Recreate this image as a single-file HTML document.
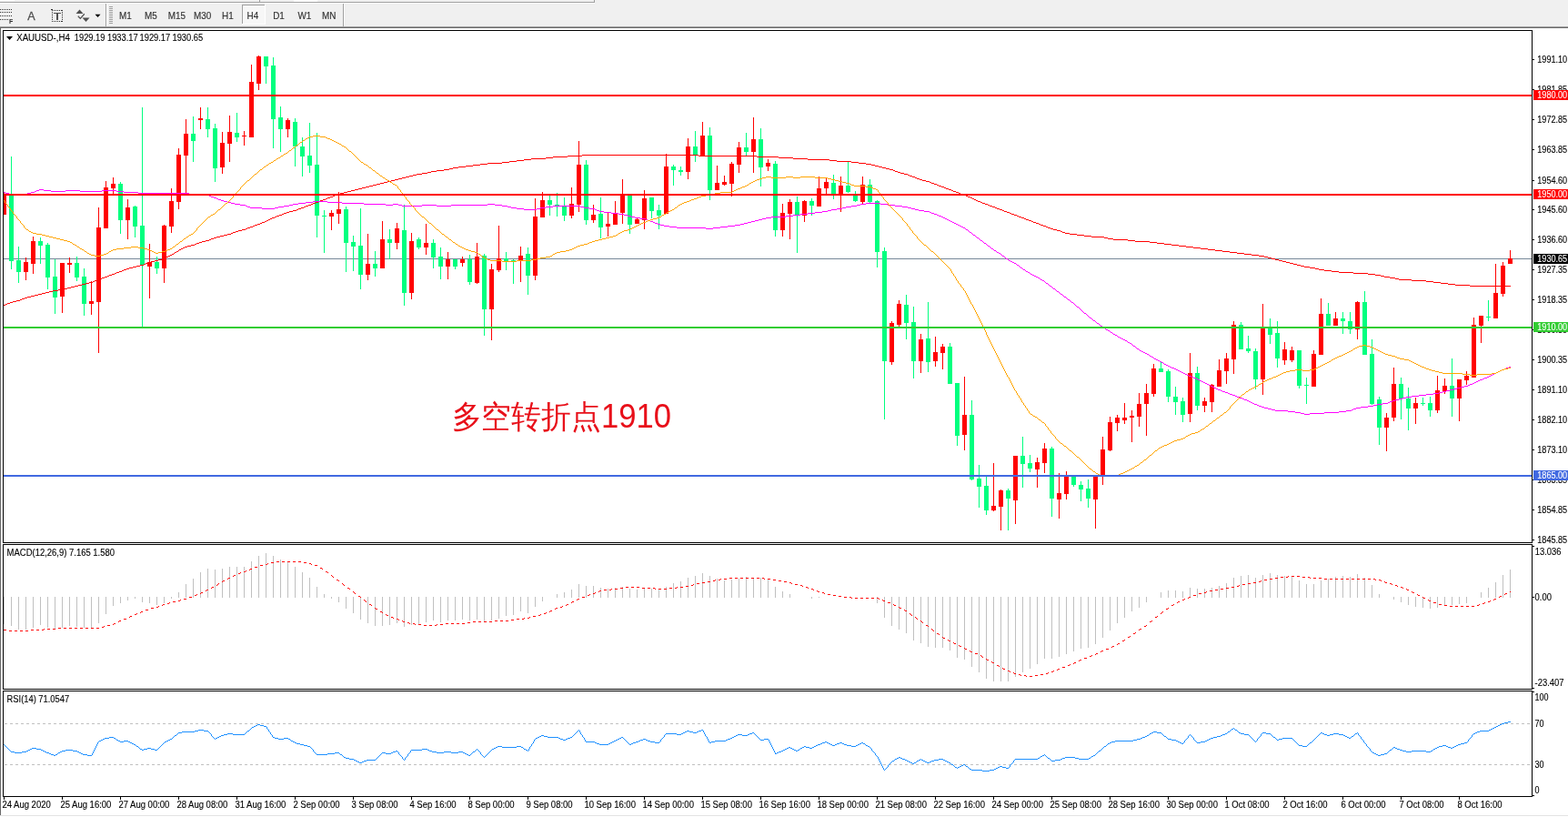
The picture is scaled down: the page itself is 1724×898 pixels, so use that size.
<!DOCTYPE html><html><head><meta charset="utf-8"><title>XAUUSD H4</title><style>
html,body{margin:0;padding:0;background:#fff;}
body{width:1724px;height:898px;overflow:hidden;position:relative;font-family:"Liberation Sans", Arial, sans-serif;}
svg{position:absolute;left:0;top:0;display:block;}
text{font-family:"Liberation Sans", Arial, sans-serif;}
</style></head><body>
<svg width="1724" height="898" viewBox="0 0 1724 898">
<rect x="0" y="0" width="1724" height="898" fill="#ffffff"/>
<g shape-rendering="crispEdges">
<rect x="0" y="0" width="1724" height="29" fill="#f0f0f0"/>
<rect x="0" y="0" width="16" height="1" fill="#ffffff"/>
<rect x="0" y="2" width="654" height="1" fill="#a0a0a0"/>
<rect x="653" y="0" width="1" height="3" fill="#a0a0a0"/>
<rect x="0" y="3" width="654" height="1" fill="#ffffff"/>
<rect x="285" y="0" width="1" height="2" fill="#a0a0a0"/><rect x="323" y="0" width="26" height="2" fill="#ffffff"/>
<rect x="0" y="29" width="1724" height="1" fill="#a0a0a0"/>
<rect x="0" y="30" width="1724" height="1" fill="#696969"/>
<rect x="0" y="31" width="1" height="865" fill="#696969"/>
<rect x="0" y="896" width="1724" height="1" fill="#e3e3e3"/>
<rect x="116" y="4" width="1" height="25" fill="#a0a0a0"/><rect x="117" y="4" width="1" height="25" fill="#ffffff"/>
<rect x="377" y="4" width="1" height="25" fill="#a0a0a0"/><rect x="378" y="4" width="1" height="25" fill="#ffffff"/>
<rect x="120" y="7" width="4" height="1" fill="#a0a0a0"/>
<rect x="120" y="9" width="4" height="1" fill="#a0a0a0"/>
<rect x="120" y="11" width="4" height="1" fill="#a0a0a0"/>
<rect x="120" y="13" width="4" height="1" fill="#a0a0a0"/>
<rect x="120" y="15" width="4" height="1" fill="#a0a0a0"/>
<rect x="120" y="17" width="4" height="1" fill="#a0a0a0"/>
<rect x="120" y="19" width="4" height="1" fill="#a0a0a0"/>
<rect x="120" y="21" width="4" height="1" fill="#a0a0a0"/>
<rect x="120" y="23" width="4" height="1" fill="#a0a0a0"/>
<rect x="120" y="25" width="4" height="1" fill="#a0a0a0"/>
<rect x="266" y="5" width="26" height="22" fill="#f7f7f7"/>
<rect x="266" y="5" width="26" height="1" fill="#a0a0a0"/><rect x="266" y="5" width="1" height="22" fill="#a0a0a0"/>
<rect x="266" y="26" width="26" height="1" fill="#ffffff"/><rect x="291" y="5" width="1" height="22" fill="#ffffff"/>
<rect x="0" y="10" width="1" height="1" fill="#303030"/>
<rect x="2" y="10" width="1" height="1" fill="#303030"/>
<rect x="4" y="10" width="1" height="1" fill="#303030"/>
<rect x="6" y="10" width="1" height="1" fill="#303030"/>
<rect x="8" y="10" width="1" height="1" fill="#303030"/>
<rect x="10" y="10" width="1" height="1" fill="#303030"/>
<rect x="12" y="10" width="1" height="1" fill="#303030"/>
<rect x="0" y="13" width="1" height="1" fill="#303030"/>
<rect x="2" y="13" width="1" height="1" fill="#303030"/>
<rect x="4" y="13" width="1" height="1" fill="#303030"/>
<rect x="6" y="13" width="1" height="1" fill="#303030"/>
<rect x="8" y="13" width="1" height="1" fill="#303030"/>
<rect x="10" y="13" width="1" height="1" fill="#303030"/>
<rect x="12" y="13" width="1" height="1" fill="#303030"/>
<rect x="0" y="17" width="1" height="1" fill="#303030"/>
<rect x="2" y="17" width="1" height="1" fill="#303030"/>
<rect x="4" y="17" width="1" height="1" fill="#303030"/>
<rect x="6" y="17" width="1" height="1" fill="#303030"/>
<rect x="8" y="17" width="1" height="1" fill="#303030"/>
<rect x="10" y="17" width="1" height="1" fill="#303030"/>
<rect x="12" y="17" width="1" height="1" fill="#303030"/>
<rect x="0" y="21" width="1" height="1" fill="#303030"/>
<rect x="2" y="21" width="1" height="1" fill="#303030"/>
<rect x="4" y="21" width="1" height="1" fill="#303030"/>
<rect x="6" y="21" width="1" height="1" fill="#303030"/>
<rect x="8" y="21" width="1" height="1" fill="#303030"/>
<rect x="57" y="11" width="1" height="1" fill="#303030"/><rect x="57" y="23" width="1" height="1" fill="#303030"/>
<rect x="59" y="11" width="1" height="1" fill="#303030"/><rect x="59" y="23" width="1" height="1" fill="#303030"/>
<rect x="61" y="11" width="1" height="1" fill="#303030"/><rect x="61" y="23" width="1" height="1" fill="#303030"/>
<rect x="63" y="11" width="1" height="1" fill="#303030"/><rect x="63" y="23" width="1" height="1" fill="#303030"/>
<rect x="65" y="11" width="1" height="1" fill="#303030"/><rect x="65" y="23" width="1" height="1" fill="#303030"/>
<rect x="67" y="11" width="1" height="1" fill="#303030"/><rect x="67" y="23" width="1" height="1" fill="#303030"/>
<rect x="57" y="11" width="1" height="1" fill="#303030"/><rect x="68" y="11" width="1" height="1" fill="#303030"/>
<rect x="57" y="13" width="1" height="1" fill="#303030"/><rect x="68" y="13" width="1" height="1" fill="#303030"/>
<rect x="57" y="15" width="1" height="1" fill="#303030"/><rect x="68" y="15" width="1" height="1" fill="#303030"/>
<rect x="57" y="17" width="1" height="1" fill="#303030"/><rect x="68" y="17" width="1" height="1" fill="#303030"/>
<rect x="57" y="19" width="1" height="1" fill="#303030"/><rect x="68" y="19" width="1" height="1" fill="#303030"/>
<rect x="57" y="21" width="1" height="1" fill="#303030"/><rect x="68" y="21" width="1" height="1" fill="#303030"/>
<rect x="57" y="23" width="1" height="1" fill="#303030"/><rect x="68" y="23" width="1" height="1" fill="#303030"/>
<rect x="56" y="10" width="2" height="1" fill="#303030"/>
<rect x="59" y="14" width="8" height="1" fill="#505050"/><rect x="62" y="14" width="2" height="8" fill="#505050"/>
</g>
<text x="10" y="26" font-size="7" font-weight="bold" fill="#303030">F</text>
<text x="30.3" y="22" font-size="12.6" fill="#505050" stroke="#505050" stroke-width="0.3">A</text>
<path d="M83.5,15 L87.5,10.5 L91.5,15 Z" fill="#505050"/><path d="M90.5,19.5 L94.5,24 L98.5,19.5 Z" fill="#505050"/>
<path d="M85.8,17.8 L88.3,20.4 L92.8,15.3" stroke="#505050" stroke-width="1.3" fill="none"/>
<path d="M104.5,15.8 L110.5,15.8 L107.5,19 Z" fill="#000"/>
<text x="131.1" y="21" font-size="10.2" fill="#333333" stroke="#333333" stroke-width="0.15" textLength="13.75" lengthAdjust="spacingAndGlyphs" xml:space="preserve" >M1</text>
<text x="159.0" y="21" font-size="10.2" fill="#333333" stroke="#333333" stroke-width="0.15" textLength="13.75" lengthAdjust="spacingAndGlyphs" xml:space="preserve" >M5</text>
<text x="184.8" y="21" font-size="10.2" fill="#333333" stroke="#333333" stroke-width="0.15" textLength="19.26" lengthAdjust="spacingAndGlyphs" xml:space="preserve" >M15</text>
<text x="213.0" y="21" font-size="10.2" fill="#333333" stroke="#333333" stroke-width="0.15" textLength="19.26" lengthAdjust="spacingAndGlyphs" xml:space="preserve" >M30</text>
<text x="244.0" y="21" font-size="10.2" fill="#333333" stroke="#333333" stroke-width="0.15" textLength="12.65" lengthAdjust="spacingAndGlyphs" xml:space="preserve" >H1</text>
<text x="271.6" y="21" font-size="10.2" fill="#333333" stroke="#333333" stroke-width="0.15" textLength="12.65" lengthAdjust="spacingAndGlyphs" xml:space="preserve" >H4</text>
<text x="300.2" y="21" font-size="10.2" fill="#333333" stroke="#333333" stroke-width="0.15" textLength="12.65" lengthAdjust="spacingAndGlyphs" xml:space="preserve" >D1</text>
<text x="327.4" y="21" font-size="10.2" fill="#333333" stroke="#333333" stroke-width="0.15" textLength="14.85" lengthAdjust="spacingAndGlyphs" xml:space="preserve" >W1</text>
<text x="353.9" y="21" font-size="10.2" fill="#333333" stroke="#333333" stroke-width="0.15" textLength="15.40" lengthAdjust="spacingAndGlyphs" xml:space="preserve" >MN</text>
<g shape-rendering="crispEdges" fill="#000">
<rect x="3" y="33" width="1682" height="1"/>
<rect x="3" y="596" width="1682" height="1"/>
<rect x="3" y="33" width="1" height="564"/>
<rect x="1684" y="33" width="1" height="564"/>
<rect x="3" y="598" width="1682" height="1"/>
<rect x="3" y="757" width="1682" height="1"/>
<rect x="3" y="598" width="1" height="160"/>
<rect x="1684" y="598" width="1" height="160"/>
<rect x="3" y="759" width="1682" height="1"/>
<rect x="3" y="875" width="1682" height="1"/>
<rect x="3" y="759" width="1" height="117"/>
<rect x="1684" y="759" width="1" height="117"/>
</g>
<defs><clipPath id="cm"><rect x="4" y="34" width="1680" height="562"/></clipPath><clipPath id="cd"><rect x="4" y="599" width="1680" height="158"/></clipPath><clipPath id="cr"><rect x="4" y="760" width="1680" height="115"/></clipPath></defs>
<g clip-path="url(#cm)">
<g shape-rendering="crispEdges">
<rect x="4" y="284" width="1680" height="1" fill="#778899"/>
</g>
<g shape-rendering="crispEdges">
<rect x="4" y="211" width="1" height="25" fill="#ff0000"/>
<rect x="2" y="213" width="5" height="23" fill="#ff0000"/>
<rect x="12" y="172" width="1" height="124" fill="#00ff7f"/>
<rect x="10" y="215" width="5" height="72" fill="#00ff7f"/>
<rect x="20" y="271" width="1" height="40" fill="#00ff7f"/>
<rect x="18" y="286" width="5" height="13" fill="#00ff7f"/>
<rect x="28" y="283" width="1" height="25" fill="#ff0000"/>
<rect x="26" y="288" width="5" height="11" fill="#ff0000"/>
<rect x="36" y="260" width="1" height="41" fill="#ff0000"/>
<rect x="34" y="265" width="5" height="25" fill="#ff0000"/>
<rect x="44" y="261" width="1" height="29" fill="#00ff7f"/>
<rect x="42" y="265" width="5" height="5" fill="#00ff7f"/>
<rect x="52" y="267" width="1" height="51" fill="#00ff7f"/>
<rect x="50" y="269" width="5" height="36" fill="#00ff7f"/>
<rect x="60" y="285" width="1" height="60" fill="#00ff7f"/>
<rect x="58" y="304" width="5" height="23" fill="#00ff7f"/>
<rect x="68" y="289" width="1" height="55" fill="#ff0000"/>
<rect x="66" y="289" width="5" height="37" fill="#ff0000"/>
<rect x="76" y="283" width="1" height="17" fill="#ff0000"/>
<rect x="74" y="289" width="5" height="2" fill="#ff0000"/>
<rect x="84" y="282" width="1" height="27" fill="#00ff7f"/>
<rect x="82" y="289" width="5" height="16" fill="#00ff7f"/>
<rect x="92" y="295" width="1" height="52" fill="#00ff7f"/>
<rect x="90" y="304" width="5" height="30" fill="#00ff7f"/>
<rect x="100" y="309" width="1" height="37" fill="#ff0000"/>
<rect x="98" y="331" width="5" height="3" fill="#ff0000"/>
<rect x="108" y="228" width="1" height="160" fill="#ff0000"/>
<rect x="106" y="250" width="5" height="82" fill="#ff0000"/>
<rect x="116" y="199" width="1" height="52" fill="#ff0000"/>
<rect x="114" y="206" width="5" height="45" fill="#ff0000"/>
<rect x="124" y="195" width="1" height="18" fill="#ff0000"/>
<rect x="122" y="202" width="5" height="5" fill="#ff0000"/>
<rect x="132" y="200" width="1" height="57" fill="#00ff7f"/>
<rect x="130" y="202" width="5" height="40" fill="#00ff7f"/>
<rect x="140" y="219" width="1" height="44" fill="#ff0000"/>
<rect x="138" y="228" width="5" height="14" fill="#ff0000"/>
<rect x="148" y="226" width="1" height="35" fill="#00ff7f"/>
<rect x="146" y="227" width="5" height="22" fill="#00ff7f"/>
<rect x="156" y="118" width="1" height="241" fill="#00ff7f"/>
<rect x="154" y="248" width="5" height="43" fill="#00ff7f"/>
<rect x="164" y="268" width="1" height="60" fill="#ff0000"/>
<rect x="162" y="288" width="5" height="5" fill="#ff0000"/>
<rect x="172" y="282" width="1" height="19" fill="#00ff7f"/>
<rect x="170" y="288" width="5" height="7" fill="#00ff7f"/>
<rect x="180" y="247" width="1" height="64" fill="#ff0000"/>
<rect x="178" y="248" width="5" height="47" fill="#ff0000"/>
<rect x="188" y="207" width="1" height="49" fill="#ff0000"/>
<rect x="186" y="221" width="5" height="28" fill="#ff0000"/>
<rect x="196" y="163" width="1" height="67" fill="#ff0000"/>
<rect x="194" y="170" width="5" height="52" fill="#ff0000"/>
<rect x="204" y="131" width="1" height="82" fill="#ff0000"/>
<rect x="202" y="147" width="5" height="24" fill="#ff0000"/>
<rect x="212" y="128" width="1" height="50" fill="#00ff7f"/>
<rect x="210" y="147" width="5" height="8" fill="#00ff7f"/>
<rect x="220" y="118" width="1" height="24" fill="#ff0000"/>
<rect x="218" y="130" width="5" height="2" fill="#ff0000"/>
<rect x="228" y="118" width="1" height="33" fill="#00ff7f"/>
<rect x="226" y="131" width="5" height="11" fill="#00ff7f"/>
<rect x="236" y="136" width="1" height="64" fill="#00ff7f"/>
<rect x="234" y="141" width="5" height="44" fill="#00ff7f"/>
<rect x="244" y="145" width="1" height="46" fill="#ff0000"/>
<rect x="242" y="157" width="5" height="27" fill="#ff0000"/>
<rect x="252" y="127" width="1" height="51" fill="#ff0000"/>
<rect x="250" y="145" width="5" height="13" fill="#ff0000"/>
<rect x="260" y="124" width="1" height="32" fill="#00ff7f"/>
<rect x="258" y="146" width="5" height="5" fill="#00ff7f"/>
<rect x="268" y="144" width="1" height="16" fill="#ff0000"/>
<rect x="266" y="149" width="5" height="1" fill="#ff0000"/>
<rect x="276" y="71" width="1" height="80" fill="#ff0000"/>
<rect x="274" y="90" width="5" height="61" fill="#ff0000"/>
<rect x="284" y="61" width="1" height="38" fill="#ff0000"/>
<rect x="282" y="62" width="5" height="30" fill="#ff0000"/>
<rect x="292" y="62" width="1" height="30" fill="#00ff7f"/>
<rect x="290" y="62" width="5" height="11" fill="#00ff7f"/>
<rect x="300" y="63" width="1" height="100" fill="#00ff7f"/>
<rect x="298" y="72" width="5" height="59" fill="#00ff7f"/>
<rect x="308" y="117" width="1" height="50" fill="#00ff7f"/>
<rect x="306" y="129" width="5" height="13" fill="#00ff7f"/>
<rect x="316" y="130" width="1" height="21" fill="#ff0000"/>
<rect x="314" y="132" width="5" height="10" fill="#ff0000"/>
<rect x="324" y="130" width="1" height="53" fill="#00ff7f"/>
<rect x="322" y="134" width="5" height="27" fill="#00ff7f"/>
<rect x="332" y="151" width="1" height="43" fill="#00ff7f"/>
<rect x="330" y="161" width="5" height="11" fill="#00ff7f"/>
<rect x="340" y="135" width="1" height="55" fill="#00ff7f"/>
<rect x="338" y="171" width="5" height="11" fill="#00ff7f"/>
<rect x="348" y="146" width="1" height="115" fill="#00ff7f"/>
<rect x="346" y="181" width="5" height="56" fill="#00ff7f"/>
<rect x="356" y="231" width="1" height="47" fill="#00ff7f"/>
<rect x="354" y="237" width="5" height="1" fill="#00ff7f"/>
<rect x="364" y="231" width="1" height="22" fill="#ff0000"/>
<rect x="362" y="234" width="5" height="4" fill="#ff0000"/>
<rect x="372" y="211" width="1" height="35" fill="#ff0000"/>
<rect x="370" y="230" width="5" height="5" fill="#ff0000"/>
<rect x="380" y="227" width="1" height="72" fill="#00ff7f"/>
<rect x="378" y="230" width="5" height="37" fill="#00ff7f"/>
<rect x="388" y="259" width="1" height="39" fill="#00ff7f"/>
<rect x="386" y="266" width="5" height="5" fill="#00ff7f"/>
<rect x="396" y="229" width="1" height="89" fill="#00ff7f"/>
<rect x="394" y="270" width="5" height="32" fill="#00ff7f"/>
<rect x="404" y="257" width="1" height="51" fill="#ff0000"/>
<rect x="402" y="290" width="5" height="12" fill="#ff0000"/>
<rect x="412" y="276" width="1" height="28" fill="#00ff7f"/>
<rect x="410" y="290" width="5" height="5" fill="#00ff7f"/>
<rect x="420" y="243" width="1" height="52" fill="#ff0000"/>
<rect x="418" y="263" width="5" height="32" fill="#ff0000"/>
<rect x="428" y="252" width="1" height="33" fill="#00ff7f"/>
<rect x="426" y="263" width="5" height="4" fill="#00ff7f"/>
<rect x="436" y="245" width="1" height="29" fill="#ff0000"/>
<rect x="434" y="251" width="5" height="16" fill="#ff0000"/>
<rect x="444" y="225" width="1" height="111" fill="#00ff7f"/>
<rect x="442" y="253" width="5" height="69" fill="#00ff7f"/>
<rect x="452" y="256" width="1" height="73" fill="#ff0000"/>
<rect x="450" y="265" width="5" height="57" fill="#ff0000"/>
<rect x="460" y="261" width="1" height="13" fill="#00ff7f"/>
<rect x="458" y="263" width="5" height="9" fill="#00ff7f"/>
<rect x="468" y="246" width="1" height="34" fill="#ff0000"/>
<rect x="466" y="267" width="5" height="5" fill="#ff0000"/>
<rect x="476" y="263" width="1" height="32" fill="#00ff7f"/>
<rect x="474" y="267" width="5" height="16" fill="#00ff7f"/>
<rect x="484" y="272" width="1" height="35" fill="#00ff7f"/>
<rect x="482" y="282" width="5" height="11" fill="#00ff7f"/>
<rect x="492" y="277" width="1" height="30" fill="#ff0000"/>
<rect x="490" y="285" width="5" height="8" fill="#ff0000"/>
<rect x="500" y="285" width="1" height="11" fill="#00ff7f"/>
<rect x="498" y="285" width="5" height="8" fill="#00ff7f"/>
<rect x="508" y="282" width="1" height="11" fill="#ff0000"/>
<rect x="506" y="285" width="5" height="4" fill="#ff0000"/>
<rect x="516" y="280" width="1" height="33" fill="#00ff7f"/>
<rect x="514" y="285" width="5" height="25" fill="#00ff7f"/>
<rect x="524" y="267" width="1" height="45" fill="#ff0000"/>
<rect x="522" y="282" width="5" height="29" fill="#ff0000"/>
<rect x="532" y="279" width="1" height="90" fill="#00ff7f"/>
<rect x="530" y="281" width="5" height="59" fill="#00ff7f"/>
<rect x="540" y="290" width="1" height="84" fill="#ff0000"/>
<rect x="538" y="296" width="5" height="44" fill="#ff0000"/>
<rect x="548" y="248" width="1" height="51" fill="#ff0000"/>
<rect x="546" y="284" width="5" height="13" fill="#ff0000"/>
<rect x="556" y="277" width="1" height="20" fill="#00ff7f"/>
<rect x="554" y="284" width="5" height="3" fill="#00ff7f"/>
<rect x="564" y="285" width="1" height="27" fill="#00ff7f"/>
<rect x="562" y="286" width="5" height="1" fill="#00ff7f"/>
<rect x="572" y="271" width="1" height="39" fill="#ff0000"/>
<rect x="570" y="281" width="5" height="6" fill="#ff0000"/>
<rect x="580" y="272" width="1" height="52" fill="#00ff7f"/>
<rect x="578" y="279" width="5" height="24" fill="#00ff7f"/>
<rect x="588" y="218" width="1" height="90" fill="#ff0000"/>
<rect x="586" y="238" width="5" height="65" fill="#ff0000"/>
<rect x="596" y="211" width="1" height="28" fill="#ff0000"/>
<rect x="594" y="220" width="5" height="19" fill="#ff0000"/>
<rect x="604" y="215" width="1" height="22" fill="#00ff7f"/>
<rect x="602" y="220" width="5" height="5" fill="#00ff7f"/>
<rect x="612" y="212" width="1" height="26" fill="#00ff7f"/>
<rect x="610" y="225" width="5" height="2" fill="#00ff7f"/>
<rect x="620" y="217" width="1" height="26" fill="#00ff7f"/>
<rect x="618" y="227" width="5" height="10" fill="#00ff7f"/>
<rect x="628" y="206" width="1" height="34" fill="#ff0000"/>
<rect x="626" y="224" width="5" height="13" fill="#ff0000"/>
<rect x="636" y="155" width="1" height="78" fill="#ff0000"/>
<rect x="634" y="181" width="5" height="44" fill="#ff0000"/>
<rect x="644" y="176" width="1" height="71" fill="#00ff7f"/>
<rect x="642" y="181" width="5" height="61" fill="#00ff7f"/>
<rect x="652" y="225" width="1" height="20" fill="#ff0000"/>
<rect x="650" y="236" width="5" height="6" fill="#ff0000"/>
<rect x="660" y="217" width="1" height="45" fill="#00ff7f"/>
<rect x="658" y="235" width="5" height="15" fill="#00ff7f"/>
<rect x="668" y="234" width="1" height="26" fill="#ff0000"/>
<rect x="666" y="246" width="5" height="3" fill="#ff0000"/>
<rect x="676" y="221" width="1" height="26" fill="#ff0000"/>
<rect x="674" y="235" width="5" height="12" fill="#ff0000"/>
<rect x="684" y="197" width="1" height="49" fill="#ff0000"/>
<rect x="682" y="214" width="5" height="20" fill="#ff0000"/>
<rect x="692" y="215" width="1" height="42" fill="#00ff7f"/>
<rect x="690" y="215" width="5" height="32" fill="#00ff7f"/>
<rect x="700" y="239" width="1" height="7" fill="#ff0000"/>
<rect x="698" y="241" width="5" height="5" fill="#ff0000"/>
<rect x="708" y="209" width="1" height="43" fill="#ff0000"/>
<rect x="706" y="218" width="5" height="24" fill="#ff0000"/>
<rect x="716" y="217" width="1" height="23" fill="#00ff7f"/>
<rect x="714" y="217" width="5" height="15" fill="#00ff7f"/>
<rect x="724" y="225" width="1" height="27" fill="#00ff7f"/>
<rect x="722" y="231" width="5" height="6" fill="#00ff7f"/>
<rect x="732" y="169" width="1" height="66" fill="#ff0000"/>
<rect x="730" y="183" width="5" height="52" fill="#ff0000"/>
<rect x="740" y="181" width="1" height="23" fill="#00ff7f"/>
<rect x="738" y="183" width="5" height="4" fill="#00ff7f"/>
<rect x="748" y="183" width="1" height="10" fill="#00ff7f"/>
<rect x="746" y="187" width="5" height="2" fill="#00ff7f"/>
<rect x="756" y="152" width="1" height="45" fill="#ff0000"/>
<rect x="754" y="161" width="5" height="28" fill="#ff0000"/>
<rect x="764" y="144" width="1" height="34" fill="#00ff7f"/>
<rect x="762" y="161" width="5" height="10" fill="#00ff7f"/>
<rect x="772" y="134" width="1" height="38" fill="#ff0000"/>
<rect x="770" y="149" width="5" height="22" fill="#ff0000"/>
<rect x="780" y="140" width="1" height="80" fill="#00ff7f"/>
<rect x="778" y="149" width="5" height="60" fill="#00ff7f"/>
<rect x="788" y="182" width="1" height="27" fill="#ff0000"/>
<rect x="786" y="201" width="5" height="8" fill="#ff0000"/>
<rect x="796" y="193" width="1" height="11" fill="#ff0000"/>
<rect x="794" y="200" width="5" height="3" fill="#ff0000"/>
<rect x="804" y="178" width="1" height="38" fill="#ff0000"/>
<rect x="802" y="180" width="5" height="22" fill="#ff0000"/>
<rect x="812" y="156" width="1" height="34" fill="#ff0000"/>
<rect x="810" y="162" width="5" height="19" fill="#ff0000"/>
<rect x="820" y="146" width="1" height="26" fill="#00ff7f"/>
<rect x="818" y="162" width="5" height="5" fill="#00ff7f"/>
<rect x="828" y="129" width="1" height="61" fill="#ff0000"/>
<rect x="826" y="153" width="5" height="14" fill="#ff0000"/>
<rect x="836" y="141" width="1" height="64" fill="#00ff7f"/>
<rect x="834" y="153" width="5" height="31" fill="#00ff7f"/>
<rect x="844" y="175" width="1" height="13" fill="#ff0000"/>
<rect x="842" y="179" width="5" height="4" fill="#ff0000"/>
<rect x="852" y="177" width="1" height="83" fill="#00ff7f"/>
<rect x="850" y="180" width="5" height="73" fill="#00ff7f"/>
<rect x="860" y="224" width="1" height="36" fill="#ff0000"/>
<rect x="858" y="234" width="5" height="19" fill="#ff0000"/>
<rect x="868" y="219" width="1" height="44" fill="#ff0000"/>
<rect x="866" y="222" width="5" height="13" fill="#ff0000"/>
<rect x="876" y="216" width="1" height="62" fill="#00ff7f"/>
<rect x="874" y="222" width="5" height="14" fill="#00ff7f"/>
<rect x="884" y="220" width="1" height="24" fill="#ff0000"/>
<rect x="882" y="221" width="5" height="16" fill="#ff0000"/>
<rect x="892" y="218" width="1" height="19" fill="#00ff7f"/>
<rect x="890" y="221" width="5" height="5" fill="#00ff7f"/>
<rect x="900" y="194" width="1" height="33" fill="#ff0000"/>
<rect x="898" y="207" width="5" height="20" fill="#ff0000"/>
<rect x="908" y="195" width="1" height="18" fill="#ff0000"/>
<rect x="906" y="200" width="5" height="7" fill="#ff0000"/>
<rect x="916" y="192" width="1" height="27" fill="#00ff7f"/>
<rect x="914" y="201" width="5" height="12" fill="#00ff7f"/>
<rect x="924" y="194" width="1" height="39" fill="#ff0000"/>
<rect x="922" y="204" width="5" height="10" fill="#ff0000"/>
<rect x="932" y="178" width="1" height="34" fill="#00ff7f"/>
<rect x="930" y="204" width="5" height="7" fill="#00ff7f"/>
<rect x="940" y="210" width="1" height="12" fill="#00ff7f"/>
<rect x="938" y="214" width="5" height="7" fill="#00ff7f"/>
<rect x="948" y="194" width="1" height="31" fill="#ff0000"/>
<rect x="946" y="203" width="5" height="19" fill="#ff0000"/>
<rect x="956" y="197" width="1" height="26" fill="#00ff7f"/>
<rect x="954" y="203" width="5" height="19" fill="#00ff7f"/>
<rect x="964" y="220" width="1" height="74" fill="#00ff7f"/>
<rect x="962" y="221" width="5" height="56" fill="#00ff7f"/>
<rect x="972" y="272" width="1" height="189" fill="#00ff7f"/>
<rect x="970" y="276" width="5" height="121" fill="#00ff7f"/>
<rect x="980" y="353" width="1" height="48" fill="#ff0000"/>
<rect x="978" y="355" width="5" height="43" fill="#ff0000"/>
<rect x="988" y="330" width="1" height="29" fill="#ff0000"/>
<rect x="986" y="334" width="5" height="23" fill="#ff0000"/>
<rect x="996" y="324" width="1" height="49" fill="#00ff7f"/>
<rect x="994" y="335" width="5" height="20" fill="#00ff7f"/>
<rect x="1004" y="337" width="1" height="79" fill="#00ff7f"/>
<rect x="1002" y="354" width="5" height="43" fill="#00ff7f"/>
<rect x="1012" y="367" width="1" height="43" fill="#ff0000"/>
<rect x="1010" y="373" width="5" height="24" fill="#ff0000"/>
<rect x="1020" y="332" width="1" height="77" fill="#00ff7f"/>
<rect x="1018" y="372" width="5" height="26" fill="#00ff7f"/>
<rect x="1028" y="370" width="1" height="33" fill="#ff0000"/>
<rect x="1026" y="387" width="5" height="10" fill="#ff0000"/>
<rect x="1036" y="378" width="1" height="28" fill="#ff0000"/>
<rect x="1034" y="381" width="5" height="7" fill="#ff0000"/>
<rect x="1044" y="377" width="1" height="45" fill="#00ff7f"/>
<rect x="1042" y="381" width="5" height="41" fill="#00ff7f"/>
<rect x="1052" y="421" width="1" height="69" fill="#00ff7f"/>
<rect x="1050" y="421" width="5" height="58" fill="#00ff7f"/>
<rect x="1060" y="414" width="1" height="81" fill="#ff0000"/>
<rect x="1058" y="456" width="5" height="22" fill="#ff0000"/>
<rect x="1068" y="440" width="1" height="88" fill="#00ff7f"/>
<rect x="1066" y="456" width="5" height="71" fill="#00ff7f"/>
<rect x="1076" y="511" width="1" height="47" fill="#00ff7f"/>
<rect x="1074" y="526" width="5" height="9" fill="#00ff7f"/>
<rect x="1084" y="524" width="1" height="42" fill="#00ff7f"/>
<rect x="1082" y="534" width="5" height="27" fill="#00ff7f"/>
<rect x="1092" y="509" width="1" height="53" fill="#ff0000"/>
<rect x="1090" y="556" width="5" height="5" fill="#ff0000"/>
<rect x="1100" y="538" width="1" height="45" fill="#ff0000"/>
<rect x="1098" y="539" width="5" height="18" fill="#ff0000"/>
<rect x="1108" y="537" width="1" height="46" fill="#00ff7f"/>
<rect x="1106" y="539" width="5" height="9" fill="#00ff7f"/>
<rect x="1116" y="501" width="1" height="75" fill="#ff0000"/>
<rect x="1114" y="501" width="5" height="49" fill="#ff0000"/>
<rect x="1124" y="480" width="1" height="56" fill="#00ff7f"/>
<rect x="1122" y="501" width="5" height="9" fill="#00ff7f"/>
<rect x="1132" y="500" width="1" height="19" fill="#00ff7f"/>
<rect x="1130" y="509" width="5" height="6" fill="#00ff7f"/>
<rect x="1140" y="503" width="1" height="33" fill="#ff0000"/>
<rect x="1138" y="508" width="5" height="8" fill="#ff0000"/>
<rect x="1148" y="487" width="1" height="33" fill="#ff0000"/>
<rect x="1146" y="493" width="5" height="16" fill="#ff0000"/>
<rect x="1156" y="491" width="1" height="77" fill="#00ff7f"/>
<rect x="1154" y="493" width="5" height="55" fill="#00ff7f"/>
<rect x="1164" y="520" width="1" height="50" fill="#ff0000"/>
<rect x="1162" y="542" width="5" height="7" fill="#ff0000"/>
<rect x="1172" y="518" width="1" height="31" fill="#ff0000"/>
<rect x="1170" y="524" width="5" height="19" fill="#ff0000"/>
<rect x="1180" y="524" width="1" height="11" fill="#00ff7f"/>
<rect x="1178" y="524" width="5" height="9" fill="#00ff7f"/>
<rect x="1188" y="529" width="1" height="22" fill="#00ff7f"/>
<rect x="1186" y="533" width="5" height="5" fill="#00ff7f"/>
<rect x="1196" y="527" width="1" height="31" fill="#00ff7f"/>
<rect x="1194" y="537" width="5" height="11" fill="#00ff7f"/>
<rect x="1204" y="522" width="1" height="59" fill="#ff0000"/>
<rect x="1202" y="524" width="5" height="25" fill="#ff0000"/>
<rect x="1212" y="480" width="1" height="53" fill="#ff0000"/>
<rect x="1210" y="494" width="5" height="29" fill="#ff0000"/>
<rect x="1220" y="458" width="1" height="38" fill="#ff0000"/>
<rect x="1218" y="464" width="5" height="31" fill="#ff0000"/>
<rect x="1228" y="456" width="1" height="18" fill="#ff0000"/>
<rect x="1226" y="459" width="5" height="6" fill="#ff0000"/>
<rect x="1236" y="443" width="1" height="23" fill="#ff0000"/>
<rect x="1234" y="459" width="5" height="3" fill="#ff0000"/>
<rect x="1244" y="451" width="1" height="35" fill="#ff0000"/>
<rect x="1242" y="457" width="5" height="2" fill="#ff0000"/>
<rect x="1252" y="432" width="1" height="37" fill="#ff0000"/>
<rect x="1250" y="444" width="5" height="14" fill="#ff0000"/>
<rect x="1260" y="422" width="1" height="57" fill="#ff0000"/>
<rect x="1258" y="432" width="5" height="12" fill="#ff0000"/>
<rect x="1268" y="400" width="1" height="36" fill="#ff0000"/>
<rect x="1266" y="405" width="5" height="28" fill="#ff0000"/>
<rect x="1276" y="397" width="1" height="12" fill="#00ff7f"/>
<rect x="1274" y="405" width="5" height="4" fill="#00ff7f"/>
<rect x="1284" y="406" width="1" height="36" fill="#00ff7f"/>
<rect x="1282" y="408" width="5" height="28" fill="#00ff7f"/>
<rect x="1292" y="425" width="1" height="31" fill="#00ff7f"/>
<rect x="1290" y="436" width="5" height="6" fill="#00ff7f"/>
<rect x="1300" y="437" width="1" height="27" fill="#00ff7f"/>
<rect x="1298" y="441" width="5" height="15" fill="#00ff7f"/>
<rect x="1308" y="388" width="1" height="76" fill="#ff0000"/>
<rect x="1306" y="410" width="5" height="45" fill="#ff0000"/>
<rect x="1316" y="403" width="1" height="48" fill="#00ff7f"/>
<rect x="1314" y="410" width="5" height="36" fill="#00ff7f"/>
<rect x="1324" y="437" width="1" height="16" fill="#ff0000"/>
<rect x="1322" y="441" width="5" height="5" fill="#ff0000"/>
<rect x="1332" y="422" width="1" height="31" fill="#ff0000"/>
<rect x="1330" y="423" width="5" height="19" fill="#ff0000"/>
<rect x="1340" y="395" width="1" height="30" fill="#ff0000"/>
<rect x="1338" y="407" width="5" height="18" fill="#ff0000"/>
<rect x="1348" y="388" width="1" height="34" fill="#ff0000"/>
<rect x="1346" y="394" width="5" height="14" fill="#ff0000"/>
<rect x="1356" y="353" width="1" height="58" fill="#ff0000"/>
<rect x="1354" y="357" width="5" height="38" fill="#ff0000"/>
<rect x="1364" y="354" width="1" height="30" fill="#00ff7f"/>
<rect x="1362" y="357" width="5" height="27" fill="#00ff7f"/>
<rect x="1372" y="369" width="1" height="19" fill="#00ff7f"/>
<rect x="1370" y="383" width="5" height="3" fill="#00ff7f"/>
<rect x="1380" y="383" width="1" height="45" fill="#00ff7f"/>
<rect x="1378" y="386" width="5" height="31" fill="#00ff7f"/>
<rect x="1388" y="334" width="1" height="100" fill="#ff0000"/>
<rect x="1386" y="361" width="5" height="56" fill="#ff0000"/>
<rect x="1396" y="350" width="1" height="28" fill="#00ff7f"/>
<rect x="1394" y="361" width="5" height="7" fill="#00ff7f"/>
<rect x="1404" y="353" width="1" height="51" fill="#00ff7f"/>
<rect x="1402" y="366" width="5" height="28" fill="#00ff7f"/>
<rect x="1412" y="376" width="1" height="25" fill="#ff0000"/>
<rect x="1410" y="384" width="5" height="12" fill="#ff0000"/>
<rect x="1420" y="381" width="1" height="17" fill="#ff0000"/>
<rect x="1418" y="385" width="5" height="11" fill="#ff0000"/>
<rect x="1428" y="385" width="1" height="42" fill="#00ff7f"/>
<rect x="1426" y="385" width="5" height="39" fill="#00ff7f"/>
<rect x="1436" y="415" width="1" height="29" fill="#00ff7f"/>
<rect x="1434" y="423" width="5" height="1" fill="#00ff7f"/>
<rect x="1444" y="385" width="1" height="40" fill="#ff0000"/>
<rect x="1442" y="389" width="5" height="36" fill="#ff0000"/>
<rect x="1452" y="328" width="1" height="62" fill="#ff0000"/>
<rect x="1450" y="345" width="5" height="45" fill="#ff0000"/>
<rect x="1460" y="333" width="1" height="25" fill="#00ff7f"/>
<rect x="1458" y="345" width="5" height="13" fill="#00ff7f"/>
<rect x="1468" y="343" width="1" height="15" fill="#ff0000"/>
<rect x="1466" y="350" width="5" height="8" fill="#ff0000"/>
<rect x="1476" y="343" width="1" height="24" fill="#00ff7f"/>
<rect x="1474" y="350" width="5" height="3" fill="#00ff7f"/>
<rect x="1484" y="343" width="1" height="24" fill="#00ff7f"/>
<rect x="1482" y="353" width="5" height="9" fill="#00ff7f"/>
<rect x="1492" y="331" width="1" height="42" fill="#ff0000"/>
<rect x="1490" y="332" width="5" height="30" fill="#ff0000"/>
<rect x="1500" y="320" width="1" height="70" fill="#00ff7f"/>
<rect x="1498" y="332" width="5" height="58" fill="#00ff7f"/>
<rect x="1508" y="373" width="1" height="72" fill="#00ff7f"/>
<rect x="1506" y="389" width="5" height="55" fill="#00ff7f"/>
<rect x="1516" y="436" width="1" height="53" fill="#00ff7f"/>
<rect x="1514" y="439" width="5" height="31" fill="#00ff7f"/>
<rect x="1524" y="454" width="1" height="42" fill="#ff0000"/>
<rect x="1522" y="459" width="5" height="11" fill="#ff0000"/>
<rect x="1532" y="404" width="1" height="59" fill="#ff0000"/>
<rect x="1530" y="422" width="5" height="37" fill="#ff0000"/>
<rect x="1540" y="415" width="1" height="46" fill="#00ff7f"/>
<rect x="1538" y="422" width="5" height="16" fill="#00ff7f"/>
<rect x="1548" y="426" width="1" height="47" fill="#00ff7f"/>
<rect x="1546" y="438" width="5" height="11" fill="#00ff7f"/>
<rect x="1556" y="437" width="1" height="29" fill="#ff0000"/>
<rect x="1554" y="443" width="5" height="6" fill="#ff0000"/>
<rect x="1564" y="437" width="1" height="9" fill="#00ff7f"/>
<rect x="1562" y="443" width="5" height="1" fill="#00ff7f"/>
<rect x="1572" y="436" width="1" height="22" fill="#00ff7f"/>
<rect x="1570" y="443" width="5" height="8" fill="#00ff7f"/>
<rect x="1580" y="413" width="1" height="41" fill="#ff0000"/>
<rect x="1578" y="429" width="5" height="22" fill="#ff0000"/>
<rect x="1588" y="416" width="1" height="17" fill="#ff0000"/>
<rect x="1586" y="424" width="5" height="6" fill="#ff0000"/>
<rect x="1596" y="394" width="1" height="64" fill="#00ff7f"/>
<rect x="1594" y="424" width="5" height="14" fill="#00ff7f"/>
<rect x="1604" y="417" width="1" height="46" fill="#ff0000"/>
<rect x="1602" y="417" width="5" height="21" fill="#ff0000"/>
<rect x="1612" y="408" width="1" height="15" fill="#ff0000"/>
<rect x="1610" y="413" width="5" height="5" fill="#ff0000"/>
<rect x="1620" y="349" width="1" height="66" fill="#ff0000"/>
<rect x="1618" y="357" width="5" height="58" fill="#ff0000"/>
<rect x="1628" y="347" width="1" height="30" fill="#ff0000"/>
<rect x="1626" y="347" width="5" height="11" fill="#ff0000"/>
<rect x="1636" y="330" width="1" height="23" fill="#00ff7f"/>
<rect x="1634" y="348" width="5" height="1" fill="#00ff7f"/>
<rect x="1644" y="290" width="1" height="60" fill="#ff0000"/>
<rect x="1642" y="322" width="5" height="28" fill="#ff0000"/>
<rect x="1652" y="288" width="1" height="38" fill="#ff0000"/>
<rect x="1650" y="292" width="5" height="31" fill="#ff0000"/>
<rect x="1660" y="275" width="1" height="15" fill="#ff0000"/>
<rect x="1658" y="284" width="5" height="6" fill="#ff0000"/>
</g>
<g shape-rendering="crispEdges">
<path d="M640 170h128v1h-128zM624 171h16v1h-16zM768 171h64v1h-64zM608 172h16v1h-16zM832 172h24v1h-24zM600 173h8v1h-8zM856 173h16v1h-16zM584 174h16v1h-16zM872 174h16v1h-16zM576 175h8v1h-8zM888 175h24v1h-24zM568 176h8v1h-8zM912 176h8v1h-8zM560 177h8v1h-8zM920 177h16v1h-16zM552 178h8v1h-8zM936 178h8v1h-8zM536 179h16v1h-16zM944 179h8v1h-8zM528 180h8v1h-8zM952 180h6v1h-6zM520 181h8v1h-8zM958 181h4v1h-4zM512 182h8v1h-8zM962 182h4v1h-4zM504 183h8v1h-8zM966 183h4v1h-4zM498 184h6v1h-6zM970 184h4v1h-4zM494 185h4v1h-4zM974 185h4v1h-4zM488 186h6v1h-6zM978 186h4v1h-4zM480 187h8v1h-8zM982 187h2v1h-2zM474 188h6v1h-6zM984 188h3v1h-3zM470 189h4v1h-4zM987 189h3v1h-3zM464 190h6v1h-6zM990 190h4v1h-4zM458 191h6v1h-6zM994 191h4v1h-4zM454 192h4v1h-4zM998 192h2v1h-2zM450 193h4v1h-4zM1000 193h3v1h-3zM446 194h4v1h-4zM1003 194h3v1h-3zM442 195h4v1h-4zM1006 195h2v1h-2zM438 196h4v1h-4zM1008 196h3v1h-3zM434 197h4v1h-4zM1011 197h3v1h-3zM430 198h4v1h-4zM1014 198h4v1h-4zM426 199h4v1h-4zM1018 199h4v1h-4zM422 200h4v1h-4zM1022 200h2v1h-2zM418 201h4v1h-4zM1024 201h3v1h-3zM414 202h4v1h-4zM1027 202h3v1h-3zM410 203h4v1h-4zM1030 203h2v1h-2zM406 204h4v1h-4zM1032 204h3v1h-3zM402 205h4v1h-4zM1035 205h3v1h-3zM398 206h4v1h-4zM1038 206h2v1h-2zM394 207h4v1h-4zM1040 207h3v1h-3zM390 208h4v1h-4zM1043 208h3v1h-3zM386 209h4v1h-4zM1046 209h2v1h-2zM382 210h4v1h-4zM1048 210h3v1h-3zM378 211h4v1h-4zM1051 211h3v1h-3zM374 212h4v1h-4zM1054 212h2v1h-2zM371 213h3v1h-3zM1056 213h3v1h-3zM368 214h3v1h-3zM1059 214h3v1h-3zM366 215h2v1h-2zM1062 215h2v1h-2zM363 216h3v1h-3zM1064 216h3v1h-3zM360 217h3v1h-3zM1067 217h2v1h-2zM358 218h2v1h-2zM1069 218h2v1h-2zM355 219h3v1h-3zM1071 219h2v1h-2zM352 220h3v1h-3zM1073 220h2v1h-2zM350 221h2v1h-2zM1075 221h3v1h-3zM347 222h3v1h-3zM1078 222h2v1h-2zM344 223h3v1h-3zM1080 223h3v1h-3zM342 224h2v1h-2zM1083 224h3v1h-3zM339 225h3v1h-3zM1086 225h2v1h-2zM336 226h3v1h-3zM1088 226h3v1h-3zM334 227h2v1h-2zM1091 227h3v1h-3zM331 228h3v1h-3zM1094 228h2v1h-2zM328 229h3v1h-3zM1096 229h3v1h-3zM326 230h2v1h-2zM1099 230h3v1h-3zM322 231h4v1h-4zM1102 231h2v1h-2zM318 232h4v1h-4zM1104 232h3v1h-3zM315 233h3v1h-3zM1107 233h3v1h-3zM312 234h3v1h-3zM1110 234h2v1h-2zM310 235h2v1h-2zM1112 235h3v1h-3zM307 236h3v1h-3zM1115 236h3v1h-3zM304 237h3v1h-3zM1118 237h2v1h-2zM302 238h2v1h-2zM1120 238h3v1h-3zM299 239h3v1h-3zM1123 239h3v1h-3zM297 240h2v1h-2zM1126 240h2v1h-2zM295 241h2v1h-2zM1128 241h3v1h-3zM293 242h2v1h-2zM1131 242h3v1h-3zM291 243h2v1h-2zM1134 243h2v1h-2zM288 244h3v1h-3zM1136 244h3v1h-3zM286 245h2v1h-2zM1139 245h3v1h-3zM283 246h3v1h-3zM1142 246h2v1h-2zM280 247h3v1h-3zM1144 247h3v1h-3zM278 248h2v1h-2zM1147 248h3v1h-3zM275 249h3v1h-3zM1150 249h2v1h-2zM272 250h3v1h-3zM1152 250h3v1h-3zM270 251h2v1h-2zM1155 251h3v1h-3zM266 252h4v1h-4zM1158 252h4v1h-4zM262 253h4v1h-4zM1162 253h4v1h-4zM259 254h3v1h-3zM1166 254h2v1h-2zM256 255h3v1h-3zM1168 255h3v1h-3zM254 256h2v1h-2zM1171 256h5v1h-5zM250 257h4v1h-4zM1176 257h8v1h-8zM246 258h4v1h-4zM1184 258h8v1h-8zM242 259h4v1h-4zM1192 259h8v1h-8zM238 260h4v1h-4zM1200 260h14v1h-14zM235 261h3v1h-3zM1214 261h4v1h-4zM232 262h3v1h-3zM1218 262h6v1h-6zM230 263h2v1h-2zM1224 263h16v1h-16zM226 264h4v1h-4zM1240 264h8v1h-8zM222 265h4v1h-4zM1248 265h16v1h-16zM219 266h3v1h-3zM1264 266h8v1h-8zM216 267h3v1h-3zM1272 267h8v1h-8zM214 268h2v1h-2zM1280 268h8v1h-8zM210 269h4v1h-4zM1288 269h8v1h-8zM206 270h4v1h-4zM1296 270h8v1h-8zM203 271h3v1h-3zM1304 271h8v1h-8zM201 272h2v1h-2zM1312 272h8v1h-8zM199 273h2v1h-2zM1320 273h8v1h-8zM197 274h2v1h-2zM1328 274h8v1h-8zM196 275h1v1h-1zM1336 275h8v1h-8zM194 276h2v1h-2zM1344 276h8v1h-8zM192 277h2v1h-2zM1352 277h8v1h-8zM191 278h1v1h-1zM1360 278h8v1h-8zM189 279h2v1h-2zM1368 279h8v1h-8zM187 280h2v1h-2zM1376 280h8v1h-8zM185 281h2v1h-2zM1384 281h6v1h-6zM183 282h2v1h-2zM1390 282h4v1h-4zM181 283h2v1h-2zM1394 283h4v1h-4zM178 284h3v1h-3zM1398 284h4v1h-4zM174 285h4v1h-4zM1402 285h4v1h-4zM170 286h4v1h-4zM1406 286h4v1h-4zM166 287h4v1h-4zM1410 287h4v1h-4zM163 288h3v1h-3zM1414 288h4v1h-4zM160 289h3v1h-3zM1418 289h4v1h-4zM158 290h2v1h-2zM1422 290h4v1h-4zM154 291h4v1h-4zM1426 291h4v1h-4zM150 292h4v1h-4zM1430 292h4v1h-4zM146 293h4v1h-4zM1434 293h6v1h-6zM142 294h4v1h-4zM1440 294h6v1h-6zM139 295h3v1h-3zM1446 295h4v1h-4zM136 296h3v1h-3zM1450 296h6v1h-6zM134 297h2v1h-2zM1456 297h8v1h-8zM131 298h3v1h-3zM1464 298h8v1h-8zM128 299h3v1h-3zM1472 299h16v1h-16zM126 300h2v1h-2zM1488 300h16v1h-16zM123 301h3v1h-3zM1504 301h8v1h-8zM120 302h3v1h-3zM1512 302h6v1h-6zM118 303h2v1h-2zM1518 303h4v1h-4zM115 304h3v1h-3zM1522 304h6v1h-6zM112 305h3v1h-3zM1528 305h6v1h-6zM110 306h2v1h-2zM1534 306h4v1h-4zM107 307h3v1h-3zM1538 307h14v1h-14zM104 308h3v1h-3zM1552 308h16v1h-16zM102 309h2v1h-2zM1568 309h8v1h-8zM98 310h4v1h-4zM1576 310h8v1h-8zM94 311h4v1h-4zM1584 311h8v1h-8zM90 312h4v1h-4zM1592 312h8v1h-8zM86 313h4v1h-4zM1600 313h16v1h-16zM82 314h4v1h-4zM1616 314h45v1h-45zM78 315h4v1h-4zM74 316h4v1h-4zM70 317h4v1h-4zM64 318h6v1h-6zM58 319h6v1h-6zM54 320h4v1h-4zM50 321h4v1h-4zM46 322h4v1h-4zM42 323h4v1h-4zM38 324h4v1h-4zM34 325h4v1h-4zM30 326h4v1h-4zM27 327h3v1h-3zM24 328h3v1h-3zM22 329h2v1h-2zM18 330h4v1h-4zM14 331h4v1h-4zM11 332h3v1h-3zM8 333h3v1h-3zM6 334h2v1h-2zM4 335h2v1h-2z" fill="#ff0000" />
<path d="M43 208h5v1h-5zM40 209h3v1h-3zM48 209h8v1h-8zM72 209h16v1h-16zM112 209h16v1h-16zM38 210h2v1h-2zM56 210h16v1h-16zM88 210h24v1h-24zM128 210h8v1h-8zM4 211h2v1h-2zM34 211h4v1h-4zM136 211h16v1h-16zM6 212h4v1h-4zM30 212h4v1h-4zM152 212h56v1h-56zM10 213h20v1h-20zM208 213h8v1h-8zM216 214h14v1h-14zM230 215h2v1h-2zM232 216h3v1h-3zM235 217h3v1h-3zM238 218h2v1h-2zM240 219h3v1h-3zM243 220h3v1h-3zM246 221h4v1h-4zM344 221h16v1h-16zM250 222h4v1h-4zM336 222h8v1h-8zM360 222h16v1h-16zM254 223h4v1h-4zM328 223h8v1h-8zM376 223h24v1h-24zM952 223h16v1h-16zM258 224h6v1h-6zM322 224h6v1h-6zM400 224h24v1h-24zM432 224h6v1h-6zM536 224h8v1h-8zM946 224h6v1h-6zM968 224h8v1h-8zM264 225h6v1h-6zM318 225h4v1h-4zM424 225h8v1h-8zM438 225h4v1h-4zM464 225h16v1h-16zM496 225h40v1h-40zM544 225h8v1h-8zM942 225h4v1h-4zM976 225h8v1h-8zM270 226h2v1h-2zM312 226h6v1h-6zM442 226h22v1h-22zM480 226h16v1h-16zM552 226h6v1h-6zM608 226h30v1h-30zM936 226h6v1h-6zM984 226h8v1h-8zM272 227h3v1h-3zM306 227h6v1h-6zM558 227h4v1h-4zM600 227h8v1h-8zM638 227h4v1h-4zM930 227h6v1h-6zM992 227h6v1h-6zM275 228h13v1h-13zM302 228h4v1h-4zM562 228h6v1h-6zM594 228h6v1h-6zM642 228h6v1h-6zM926 228h4v1h-4zM998 228h4v1h-4zM288 229h14v1h-14zM568 229h8v1h-8zM590 229h4v1h-4zM648 229h6v1h-6zM920 229h6v1h-6zM1002 229h4v1h-4zM576 230h14v1h-14zM654 230h2v1h-2zM914 230h6v1h-6zM1006 230h4v1h-4zM656 231h3v1h-3zM910 231h4v1h-4zM1010 231h6v1h-6zM659 232h5v1h-5zM904 232h6v1h-6zM1016 232h6v1h-6zM664 233h8v1h-8zM896 233h8v1h-8zM1022 233h2v1h-2zM672 234h8v1h-8zM888 234h8v1h-8zM1024 234h3v1h-3zM680 235h6v1h-6zM880 235h8v1h-8zM1027 235h3v1h-3zM686 236h4v1h-4zM872 236h8v1h-8zM1030 236h2v1h-2zM690 237h4v1h-4zM864 237h8v1h-8zM1032 237h3v1h-3zM694 238h4v1h-4zM848 238h16v1h-16zM1035 238h2v1h-2zM698 239h6v1h-6zM842 239h6v1h-6zM1037 239h2v1h-2zM704 240h6v1h-6zM838 240h4v1h-4zM1039 240h2v1h-2zM710 241h2v1h-2zM834 241h4v1h-4zM1041 241h2v1h-2zM712 242h3v1h-3zM830 242h4v1h-4zM1043 242h2v1h-2zM715 243h3v1h-3zM826 243h4v1h-4zM1045 243h2v1h-2zM718 244h2v1h-2zM822 244h4v1h-4zM1047 244h2v1h-2zM720 245h3v1h-3zM818 245h4v1h-4zM1049 245h2v1h-2zM723 246h3v1h-3zM814 246h4v1h-4zM1051 246h2v1h-2zM726 247h4v1h-4zM808 247h6v1h-6zM1053 247h2v1h-2zM730 248h6v1h-6zM800 248h8v1h-8zM1055 248h2v1h-2zM736 249h8v1h-8zM792 249h8v1h-8zM1057 249h2v1h-2zM744 250h32v1h-32zM784 250h8v1h-8zM1059 250h2v1h-2zM776 251h8v1h-8zM1061 251h1v1h-1zM1062 252h2v1h-2zM1064 253h1v1h-1zM1065 254h1v1h-1zM1066 255h2v1h-2zM1068 256h1v1h-1zM1069 257h1v1h-1zM1070 258h2v1h-2zM1072 259h1v1h-1zM1073 260h1v1h-1zM1074 261h2v1h-2zM1076 262h1v1h-1zM1077 263h1v1h-1zM1078 264h2v1h-2zM1080 265h1v1h-1zM1081 266h1v1h-1zM1082 267h2v1h-2zM1084 268h1v1h-1zM1085 269h1v1h-1zM1086 270h2v1h-2zM1088 271h1v1h-1zM1089 272h1v1h-1zM1090 273h2v1h-2zM1092 274h1v1h-1zM1093 275h2v1h-2zM1095 276h1v1h-1zM1096 277h2v1h-2zM1098 278h2v1h-2zM1100 279h1v1h-1zM1101 280h1v1h-1zM1102 281h2v1h-2zM1104 282h1v1h-1zM1105 283h1v1h-1zM1106 284h2v1h-2zM1108 285h1v1h-1zM1109 286h2v1h-2zM1111 287h2v1h-2zM1113 288h2v1h-2zM1115 289h2v1h-2zM1117 290h1v1h-1zM1118 291h2v1h-2zM1120 292h1v1h-1zM1121 293h1v1h-1zM1122 294h2v1h-2zM1124 295h1v1h-1zM1125 296h2v1h-2zM1127 297h1v1h-1zM1128 298h2v1h-2zM1130 299h2v1h-2zM1132 300h1v1h-1zM1133 301h2v1h-2zM1135 302h2v1h-2zM1137 303h2v1h-2zM1139 304h2v1h-2zM1141 305h2v1h-2zM1143 306h1v1h-1zM1144 307h2v1h-2zM1146 308h2v1h-2zM1148 309h1v1h-1zM1149 310h1v1h-1zM1150 311h2v1h-2zM1152 312h1v1h-1zM1153 313h1v1h-1zM1154 314h2v1h-2zM1156 315h1v1h-1zM1157 316h1v1h-1zM1158 317h2v1h-2zM1160 318h1v1h-1zM1161 319h1v1h-1zM1162 320h2v1h-2zM1164 321h1v1h-1zM1165 322h1v1h-1zM1166 323h2v1h-2zM1168 324h1v1h-1zM1169 325h1v1h-1zM1170 326h2v1h-2zM1172 327h1v1h-1zM1173 328h1v1h-1zM1174 329h2v1h-2zM1176 330h1v1h-1zM1177 331h1v1h-1zM1178 332h2v1h-2zM1180 333h1v1h-1zM1181 334h1v1h-1zM1182 335h1v1h-1zM1183 336h1v1h-1zM1184 337h2v1h-2zM1186 338h1v1h-1zM1187 339h1v1h-1zM1188 340h1v1h-1zM1189 341h1v1h-1zM1190 342h1v1h-1zM1191 343h1v1h-1zM1192 344h2v1h-2zM1194 345h1v1h-1zM1195 346h1v1h-1zM1196 347h1v1h-1zM1197 348h1v1h-1zM1198 349h2v1h-2zM1200 350h1v1h-1zM1201 351h1v1h-1zM1202 352h2v1h-2zM1204 353h1v1h-1zM1205 354h1v1h-1zM1206 355h2v1h-2zM1208 356h1v1h-1zM1209 357h1v1h-1zM1210 358h2v1h-2zM1212 359h1v1h-1zM1213 360h2v1h-2zM1215 361h1v1h-1zM1216 362h2v1h-2zM1218 363h2v1h-2zM1220 364h1v1h-1zM1221 365h2v1h-2zM1223 366h1v1h-1zM1224 367h2v1h-2zM1226 368h2v1h-2zM1228 369h1v1h-1zM1229 370h2v1h-2zM1231 371h2v1h-2zM1233 372h2v1h-2zM1235 373h2v1h-2zM1237 374h2v1h-2zM1239 375h1v1h-1zM1240 376h2v1h-2zM1242 377h2v1h-2zM1244 378h1v1h-1zM1245 379h1v1h-1zM1246 380h2v1h-2zM1248 381h1v1h-1zM1249 382h1v1h-1zM1250 383h2v1h-2zM1252 384h1v1h-1zM1253 385h2v1h-2zM1255 386h2v1h-2zM1257 387h2v1h-2zM1259 388h2v1h-2zM1261 389h2v1h-2zM1263 390h1v1h-1zM1264 391h2v1h-2zM1266 392h2v1h-2zM1268 393h1v1h-1zM1269 394h2v1h-2zM1271 395h2v1h-2zM1273 396h2v1h-2zM1275 397h2v1h-2zM1277 398h2v1h-2zM1279 399h1v1h-1zM1280 400h2v1h-2zM1282 401h2v1h-2zM1284 402h2v1h-2zM1286 403h2v1h-2zM1659 403h2v1h-2zM1288 404h3v1h-3zM1656 404h3v1h-3zM1291 405h2v1h-2zM1654 405h2v1h-2zM1293 406h2v1h-2zM1651 406h3v1h-3zM1295 407h2v1h-2zM1649 407h2v1h-2zM1297 408h2v1h-2zM1647 408h2v1h-2zM1299 409h2v1h-2zM1645 409h2v1h-2zM1301 410h2v1h-2zM1643 410h2v1h-2zM1303 411h2v1h-2zM1641 411h2v1h-2zM1305 412h2v1h-2zM1639 412h2v1h-2zM1307 413h3v1h-3zM1637 413h2v1h-2zM1310 414h2v1h-2zM1635 414h2v1h-2zM1312 415h3v1h-3zM1632 415h3v1h-3zM1315 416h2v1h-2zM1630 416h2v1h-2zM1317 417h2v1h-2zM1627 417h3v1h-3zM1319 418h2v1h-2zM1625 418h2v1h-2zM1321 419h2v1h-2zM1623 419h2v1h-2zM1323 420h2v1h-2zM1621 420h2v1h-2zM1325 421h2v1h-2zM1619 421h2v1h-2zM1327 422h2v1h-2zM1616 422h3v1h-3zM1329 423h2v1h-2zM1614 423h2v1h-2zM1331 424h2v1h-2zM1610 424h4v1h-4zM1333 425h2v1h-2zM1606 425h4v1h-4zM1335 426h2v1h-2zM1602 426h4v1h-4zM1337 427h2v1h-2zM1598 427h4v1h-4zM1339 428h3v1h-3zM1594 428h4v1h-4zM1342 429h2v1h-2zM1590 429h4v1h-4zM1344 430h3v1h-3zM1586 430h4v1h-4zM1347 431h3v1h-3zM1582 431h4v1h-4zM1350 432h2v1h-2zM1576 432h6v1h-6zM1352 433h3v1h-3zM1568 433h8v1h-8zM1355 434h3v1h-3zM1560 434h8v1h-8zM1358 435h2v1h-2zM1552 435h8v1h-8zM1360 436h3v1h-3zM1546 436h6v1h-6zM1363 437h3v1h-3zM1542 437h4v1h-4zM1366 438h2v1h-2zM1538 438h4v1h-4zM1368 439h3v1h-3zM1534 439h4v1h-4zM1371 440h2v1h-2zM1531 440h3v1h-3zM1373 441h2v1h-2zM1528 441h3v1h-3zM1375 442h2v1h-2zM1526 442h2v1h-2zM1377 443h2v1h-2zM1520 443h6v1h-6zM1379 444h3v1h-3zM1514 444h6v1h-6zM1382 445h2v1h-2zM1510 445h4v1h-4zM1384 446h3v1h-3zM1504 446h6v1h-6zM1387 447h3v1h-3zM1496 447h8v1h-8zM1390 448h4v1h-4zM1491 448h5v1h-5zM1394 449h4v1h-4zM1488 449h3v1h-3zM1398 450h4v1h-4zM1486 450h2v1h-2zM1402 451h14v1h-14zM1480 451h6v1h-6zM1416 452h8v1h-8zM1472 452h8v1h-8zM1424 453h6v1h-6zM1456 453h16v1h-16zM1430 454h4v1h-4zM1440 454h16v1h-16zM1434 455h6v1h-6z" fill="#ff00ff" />
<path d="M344 149h8v1h-8zM340 150h4v1h-4zM352 150h6v1h-6zM338 151h2v1h-2zM358 151h2v1h-2zM336 152h2v1h-2zM360 152h3v1h-3zM335 153h1v1h-1zM363 153h2v1h-2zM333 154h2v1h-2zM365 154h2v1h-2zM332 155h1v1h-1zM367 155h2v1h-2zM330 156h2v1h-2zM369 156h2v1h-2zM329 157h1v1h-1zM371 157h2v1h-2zM328 158h1v1h-1zM373 158h2v1h-2zM326 159h2v1h-2zM375 159h1v1h-1zM325 160h1v1h-1zM376 160h2v1h-2zM324 161h1v1h-1zM378 161h2v1h-2zM322 162h2v1h-2zM380 162h1v1h-1zM321 163h1v1h-1zM381 163h1v1h-1zM320 164h1v1h-1zM382 164h1v1h-1zM318 165h2v1h-2zM383 165h1v1h-1zM317 166h1v1h-1zM384 166h2v1h-2zM316 167h1v1h-1zM386 167h1v1h-1zM314 168h2v1h-2zM387 168h1v1h-1zM312 169h2v1h-2zM388 169h1v1h-1zM311 170h1v1h-1zM389 170h1v1h-1zM309 171h2v1h-2zM390 171h1v1h-1zM308 172h1v1h-1zM391 172h1v1h-1zM306 173h2v1h-2zM392 173h1v1h-1zM304 174h2v1h-2zM393 174h1v1h-1zM303 175h1v1h-1zM394 175h1v1h-1zM301 176h2v1h-2zM395 176h1v1h-1zM300 177h1v1h-1zM396 177h1v1h-1zM298 178h2v1h-2zM397 178h2v1h-2zM296 179h2v1h-2zM399 179h1v1h-1zM295 180h1v1h-1zM400 180h2v1h-2zM293 181h2v1h-2zM402 181h2v1h-2zM292 182h1v1h-1zM404 182h1v1h-1zM290 183h2v1h-2zM405 183h1v1h-1zM289 184h1v1h-1zM406 184h2v1h-2zM288 185h1v1h-1zM408 185h1v1h-1zM286 186h2v1h-2zM409 186h1v1h-1zM285 187h1v1h-1zM410 187h2v1h-2zM284 188h1v1h-1zM412 188h1v1h-1zM283 189h1v1h-1zM413 189h1v1h-1zM282 190h1v1h-1zM414 190h2v1h-2zM280 191h2v1h-2zM416 191h1v1h-1zM279 192h1v1h-1zM417 192h1v1h-1zM278 193h1v1h-1zM418 193h2v1h-2zM277 194h1v1h-1zM420 194h1v1h-1zM842 194h6v1h-6zM864 194h8v1h-8zM880 194h16v1h-16zM276 195h1v1h-1zM421 195h2v1h-2zM838 195h4v1h-4zM848 195h16v1h-16zM872 195h8v1h-8zM896 195h14v1h-14zM275 196h1v1h-1zM423 196h1v1h-1zM835 196h3v1h-3zM910 196h4v1h-4zM274 197h1v1h-1zM424 197h2v1h-2zM832 197h3v1h-3zM914 197h4v1h-4zM272 198h2v1h-2zM426 198h2v1h-2zM830 198h2v1h-2zM918 198h4v1h-4zM271 199h1v1h-1zM428 199h1v1h-1zM828 199h2v1h-2zM922 199h4v1h-4zM270 200h1v1h-1zM429 200h2v1h-2zM826 200h2v1h-2zM926 200h4v1h-4zM269 201h1v1h-1zM431 201h1v1h-1zM824 201h2v1h-2zM930 201h4v1h-4zM268 202h1v1h-1zM432 202h2v1h-2zM823 202h1v1h-1zM934 202h2v1h-2zM267 203h1v1h-1zM434 203h2v1h-2zM821 203h2v1h-2zM936 203h3v1h-3zM266 204h1v1h-1zM436 204h1v1h-1zM819 204h2v1h-2zM939 204h13v1h-13zM265 205h1v1h-1zM437 205h1v1h-1zM816 205h3v1h-3zM952 205h6v1h-6zM264 206h1v1h-1zM437 206h1v1h-1zM814 206h2v1h-2zM958 206h2v1h-2zM264 207h1v1h-1zM438 207h1v1h-1zM811 207h3v1h-3zM960 207h3v1h-3zM263 208h1v1h-1zM439 208h1v1h-1zM809 208h2v1h-2zM963 208h2v1h-2zM262 209h1v1h-1zM440 209h1v1h-1zM807 209h2v1h-2zM965 209h1v1h-1zM261 210h1v1h-1zM440 210h1v1h-1zM805 210h2v1h-2zM965 210h1v1h-1zM260 211h1v1h-1zM441 211h1v1h-1zM792 211h13v1h-13zM966 211h1v1h-1zM259 212h1v1h-1zM442 212h1v1h-1zM786 212h6v1h-6zM967 212h1v1h-1zM258 213h1v1h-1zM443 213h1v1h-1zM782 213h4v1h-4zM968 213h1v1h-1zM257 214h1v1h-1zM443 214h1v1h-1zM776 214h6v1h-6zM968 214h1v1h-1zM256 215h1v1h-1zM444 215h1v1h-1zM771 215h5v1h-5zM969 215h1v1h-1zM256 216h1v1h-1zM445 216h1v1h-1zM768 216h3v1h-3zM970 216h1v1h-1zM255 217h1v1h-1zM446 217h1v1h-1zM766 217h2v1h-2zM971 217h1v1h-1zM254 218h1v1h-1zM446 218h1v1h-1zM763 218h3v1h-3zM971 218h1v1h-1zM253 219h1v1h-1zM447 219h1v1h-1zM760 219h3v1h-3zM972 219h1v1h-1zM4 220h1v1h-1zM252 220h1v1h-1zM448 220h1v1h-1zM758 220h2v1h-2zM973 220h1v1h-1zM5 221h1v1h-1zM251 221h1v1h-1zM449 221h1v1h-1zM755 221h3v1h-3zM974 221h1v1h-1zM5 222h1v1h-1zM250 222h1v1h-1zM450 222h1v1h-1zM752 222h3v1h-3zM975 222h1v1h-1zM6 223h1v1h-1zM248 223h2v1h-2zM450 223h1v1h-1zM750 223h2v1h-2zM976 223h1v1h-1zM7 224h1v1h-1zM247 224h1v1h-1zM451 224h1v1h-1zM748 224h2v1h-2zM976 224h1v1h-1zM8 225h1v1h-1zM246 225h1v1h-1zM452 225h1v1h-1zM746 225h2v1h-2zM977 225h1v1h-1zM8 226h1v1h-1zM245 226h1v1h-1zM453 226h1v1h-1zM745 226h1v1h-1zM978 226h1v1h-1zM9 227h1v1h-1zM244 227h1v1h-1zM454 227h1v1h-1zM744 227h1v1h-1zM979 227h1v1h-1zM10 228h1v1h-1zM243 228h1v1h-1zM455 228h1v1h-1zM742 228h2v1h-2zM980 228h1v1h-1zM11 229h1v1h-1zM242 229h1v1h-1zM456 229h1v1h-1zM741 229h1v1h-1zM981 229h1v1h-1zM11 230h1v1h-1zM240 230h2v1h-2zM456 230h1v1h-1zM739 230h2v1h-2zM982 230h1v1h-1zM12 231h1v1h-1zM239 231h1v1h-1zM457 231h1v1h-1zM737 231h2v1h-2zM983 231h1v1h-1zM13 232h1v1h-1zM238 232h1v1h-1zM458 232h1v1h-1zM735 232h2v1h-2zM984 232h1v1h-1zM14 233h1v1h-1zM237 233h1v1h-1zM459 233h1v1h-1zM733 233h2v1h-2zM985 233h1v1h-1zM14 234h1v1h-1zM236 234h1v1h-1zM460 234h1v1h-1zM732 234h1v1h-1zM986 234h1v1h-1zM15 235h1v1h-1zM234 235h2v1h-2zM461 235h1v1h-1zM730 235h2v1h-2zM987 235h1v1h-1zM16 236h1v1h-1zM232 236h2v1h-2zM462 236h1v1h-1zM728 236h2v1h-2zM988 236h1v1h-1zM17 237h1v1h-1zM231 237h1v1h-1zM463 237h1v1h-1zM727 237h1v1h-1zM989 237h1v1h-1zM18 238h1v1h-1zM229 238h2v1h-2zM464 238h2v1h-2zM725 238h2v1h-2zM990 238h1v1h-1zM18 239h1v1h-1zM228 239h1v1h-1zM466 239h1v1h-1zM722 239h3v1h-3zM991 239h1v1h-1zM19 240h1v1h-1zM227 240h1v1h-1zM467 240h1v1h-1zM718 240h4v1h-4zM992 240h1v1h-1zM20 241h1v1h-1zM226 241h1v1h-1zM468 241h1v1h-1zM715 241h3v1h-3zM992 241h1v1h-1zM21 242h1v1h-1zM225 242h1v1h-1zM469 242h1v1h-1zM712 242h3v1h-3zM993 242h1v1h-1zM22 243h1v1h-1zM224 243h1v1h-1zM470 243h1v1h-1zM710 243h2v1h-2zM994 243h1v1h-1zM22 244h1v1h-1zM223 244h1v1h-1zM471 244h1v1h-1zM707 244h3v1h-3zM995 244h1v1h-1zM23 245h1v1h-1zM222 245h1v1h-1zM472 245h2v1h-2zM705 245h2v1h-2zM996 245h1v1h-1zM24 246h1v1h-1zM221 246h1v1h-1zM474 246h1v1h-1zM703 246h2v1h-2zM997 246h1v1h-1zM25 247h1v1h-1zM220 247h1v1h-1zM475 247h1v1h-1zM701 247h2v1h-2zM997 247h1v1h-1zM26 248h1v1h-1zM219 248h1v1h-1zM476 248h1v1h-1zM699 248h2v1h-2zM998 248h1v1h-1zM26 249h1v1h-1zM218 249h1v1h-1zM477 249h1v1h-1zM697 249h2v1h-2zM999 249h1v1h-1zM27 250h1v1h-1zM217 250h1v1h-1zM478 250h1v1h-1zM695 250h2v1h-2zM1000 250h1v1h-1zM28 251h1v1h-1zM216 251h1v1h-1zM479 251h1v1h-1zM693 251h2v1h-2zM1000 251h1v1h-1zM29 252h2v1h-2zM216 252h1v1h-1zM480 252h2v1h-2zM690 252h3v1h-3zM1001 252h1v1h-1zM31 253h1v1h-1zM215 253h1v1h-1zM482 253h1v1h-1zM686 253h4v1h-4zM1002 253h1v1h-1zM32 254h2v1h-2zM214 254h1v1h-1zM483 254h1v1h-1zM684 254h2v1h-2zM1003 254h1v1h-1zM34 255h2v1h-2zM213 255h1v1h-1zM484 255h1v1h-1zM682 255h2v1h-2zM1003 255h1v1h-1zM36 256h4v1h-4zM212 256h1v1h-1zM485 256h1v1h-1zM680 256h2v1h-2zM1004 256h1v1h-1zM40 257h6v1h-6zM210 257h2v1h-2zM486 257h2v1h-2zM679 257h1v1h-1zM1005 257h1v1h-1zM46 258h4v1h-4zM208 258h2v1h-2zM488 258h1v1h-1zM677 258h2v1h-2zM1006 258h1v1h-1zM50 259h4v1h-4zM207 259h1v1h-1zM489 259h1v1h-1zM674 259h3v1h-3zM1007 259h1v1h-1zM54 260h4v1h-4zM205 260h2v1h-2zM490 260h2v1h-2zM670 260h4v1h-4zM1008 260h1v1h-1zM58 261h4v1h-4zM204 261h1v1h-1zM492 261h1v1h-1zM666 261h4v1h-4zM1008 261h1v1h-1zM62 262h4v1h-4zM202 262h2v1h-2zM493 262h1v1h-1zM662 262h4v1h-4zM1009 262h1v1h-1zM66 263h4v1h-4zM201 263h1v1h-1zM494 263h2v1h-2zM658 263h4v1h-4zM1010 263h1v1h-1zM70 264h4v1h-4zM200 264h1v1h-1zM496 264h1v1h-1zM654 264h4v1h-4zM1011 264h1v1h-1zM74 265h3v1h-3zM198 265h2v1h-2zM497 265h1v1h-1zM651 265h3v1h-3zM1012 265h1v1h-1zM77 266h2v1h-2zM197 266h1v1h-1zM498 266h2v1h-2zM648 266h3v1h-3zM1013 266h1v1h-1zM79 267h1v1h-1zM196 267h1v1h-1zM500 267h1v1h-1zM646 267h2v1h-2zM1014 267h1v1h-1zM80 268h2v1h-2zM194 268h2v1h-2zM501 268h2v1h-2zM642 268h4v1h-4zM1015 268h1v1h-1zM82 269h2v1h-2zM193 269h1v1h-1zM503 269h1v1h-1zM638 269h4v1h-4zM1016 269h2v1h-2zM84 270h1v1h-1zM192 270h1v1h-1zM504 270h2v1h-2zM635 270h3v1h-3zM1018 270h1v1h-1zM85 271h2v1h-2zM144 271h8v1h-8zM190 271h2v1h-2zM506 271h2v1h-2zM633 271h2v1h-2zM1019 271h1v1h-1zM87 272h1v1h-1zM136 272h8v1h-8zM152 272h6v1h-6zM189 272h1v1h-1zM508 272h2v1h-2zM631 272h2v1h-2zM1020 272h1v1h-1zM88 273h2v1h-2zM128 273h8v1h-8zM158 273h4v1h-4zM187 273h2v1h-2zM510 273h2v1h-2zM629 273h2v1h-2zM1021 273h1v1h-1zM90 274h2v1h-2zM124 274h4v1h-4zM162 274h3v1h-3zM184 274h3v1h-3zM512 274h3v1h-3zM626 274h3v1h-3zM1022 274h1v1h-1zM92 275h1v1h-1zM122 275h2v1h-2zM165 275h2v1h-2zM182 275h2v1h-2zM515 275h3v1h-3zM622 275h4v1h-4zM1023 275h1v1h-1zM93 276h2v1h-2zM120 276h2v1h-2zM167 276h2v1h-2zM178 276h4v1h-4zM518 276h4v1h-4zM616 276h6v1h-6zM1024 276h2v1h-2zM95 277h1v1h-1zM119 277h1v1h-1zM169 277h2v1h-2zM174 277h4v1h-4zM522 277h3v1h-3zM612 277h4v1h-4zM1026 277h1v1h-1zM96 278h2v1h-2zM117 278h2v1h-2zM171 278h3v1h-3zM525 278h1v1h-1zM610 278h2v1h-2zM1027 278h1v1h-1zM98 279h2v1h-2zM114 279h3v1h-3zM526 279h2v1h-2zM608 279h2v1h-2zM1028 279h1v1h-1zM100 280h4v1h-4zM110 280h4v1h-4zM528 280h1v1h-1zM607 280h1v1h-1zM1029 280h1v1h-1zM104 281h6v1h-6zM529 281h1v1h-1zM605 281h2v1h-2zM1030 281h1v1h-1zM530 282h2v1h-2zM600 282h5v1h-5zM1031 282h1v1h-1zM532 283h2v1h-2zM594 283h6v1h-6zM1032 283h1v1h-1zM534 284h2v1h-2zM590 284h4v1h-4zM1033 284h1v1h-1zM536 285h3v1h-3zM584 285h6v1h-6zM1034 285h1v1h-1zM539 286h13v1h-13zM568 286h16v1h-16zM1035 286h1v1h-1zM552 287h16v1h-16zM1036 287h1v1h-1zM1037 288h1v1h-1zM1038 289h1v1h-1zM1039 290h1v1h-1zM1040 291h1v1h-1zM1041 292h1v1h-1zM1042 293h1v1h-1zM1043 294h1v1h-1zM1044 295h1v1h-1zM1045 296h1v1h-1zM1045 297h1v1h-1zM1046 298h1v1h-1zM1046 299h1v1h-1zM1047 300h1v1h-1zM1048 301h1v1h-1zM1048 302h1v1h-1zM1049 303h1v1h-1zM1050 304h1v1h-1zM1050 305h1v1h-1zM1051 306h1v1h-1zM1051 307h1v1h-1zM1052 308h1v1h-1zM1053 309h1v1h-1zM1053 310h1v1h-1zM1054 311h1v1h-1zM1055 312h1v1h-1zM1056 313h1v1h-1zM1056 314h1v1h-1zM1057 315h1v1h-1zM1058 316h1v1h-1zM1059 317h1v1h-1zM1059 318h1v1h-1zM1060 319h1v1h-1zM1061 320h1v1h-1zM1061 321h1v1h-1zM1062 322h1v1h-1zM1062 323h1v1h-1zM1063 324h1v1h-1zM1063 325h1v1h-1zM1064 326h1v1h-1zM1064 327h1v1h-1zM1065 328h1v1h-1zM1065 329h1v1h-1zM1066 330h1v1h-1zM1066 331h1v1h-1zM1067 332h1v1h-1zM1067 333h1v1h-1zM1068 334h1v1h-1zM1069 335h1v1h-1zM1069 336h1v1h-1zM1070 337h1v1h-1zM1070 338h1v1h-1zM1071 339h1v1h-1zM1071 340h1v1h-1zM1072 341h1v1h-1zM1072 342h1v1h-1zM1073 343h1v1h-1zM1073 344h1v1h-1zM1074 345h1v1h-1zM1074 346h1v1h-1zM1075 347h1v1h-1zM1075 348h1v1h-1zM1076 349h1v1h-1zM1076 350h1v1h-1zM1077 351h1v1h-1zM1077 352h1v1h-1zM1078 353h1v1h-1zM1078 354h1v1h-1zM1079 355h1v1h-1zM1079 356h1v1h-1zM1080 357h1v1h-1zM1080 358h1v1h-1zM1081 359h1v1h-1zM1081 360h1v1h-1zM1082 361h1v1h-1zM1082 362h1v1h-1zM1083 363h1v1h-1zM1083 364h1v1h-1zM1084 365h1v1h-1zM1084 366h1v1h-1zM1084 367h1v1h-1zM1085 368h1v1h-1zM1085 369h1v1h-1zM1086 370h1v1h-1zM1086 371h1v1h-1zM1087 372h1v1h-1zM1087 373h1v1h-1zM1088 374h1v1h-1zM1088 375h1v1h-1zM1089 376h1v1h-1zM1089 377h1v1h-1zM1090 378h1v1h-1zM1090 379h1v1h-1zM1498 379h4v1h-4zM1091 380h1v1h-1zM1494 380h4v1h-4zM1502 380h4v1h-4zM1091 381h1v1h-1zM1492 381h2v1h-2zM1506 381h3v1h-3zM1092 382h1v1h-1zM1490 382h2v1h-2zM1509 382h2v1h-2zM1092 383h1v1h-1zM1488 383h2v1h-2zM1511 383h2v1h-2zM1093 384h1v1h-1zM1487 384h1v1h-1zM1513 384h2v1h-2zM1093 385h1v1h-1zM1485 385h2v1h-2zM1515 385h2v1h-2zM1094 386h1v1h-1zM1483 386h2v1h-2zM1517 386h2v1h-2zM1094 387h1v1h-1zM1481 387h2v1h-2zM1519 387h2v1h-2zM1095 388h1v1h-1zM1479 388h2v1h-2zM1521 388h2v1h-2zM1095 389h1v1h-1zM1477 389h2v1h-2zM1523 389h3v1h-3zM1096 390h1v1h-1zM1475 390h2v1h-2zM1526 390h4v1h-4zM1096 391h1v1h-1zM1472 391h3v1h-3zM1530 391h4v1h-4zM1097 392h1v1h-1zM1470 392h2v1h-2zM1534 392h2v1h-2zM1097 393h1v1h-1zM1468 393h2v1h-2zM1536 393h3v1h-3zM1098 394h1v1h-1zM1466 394h2v1h-2zM1539 394h5v1h-5zM1098 395h1v1h-1zM1464 395h2v1h-2zM1544 395h5v1h-5zM1099 396h1v1h-1zM1463 396h1v1h-1zM1549 396h2v1h-2zM1099 397h1v1h-1zM1461 397h2v1h-2zM1551 397h2v1h-2zM1100 398h1v1h-1zM1459 398h2v1h-2zM1553 398h2v1h-2zM1100 399h1v1h-1zM1457 399h2v1h-2zM1555 399h2v1h-2zM1101 400h1v1h-1zM1455 400h2v1h-2zM1557 400h2v1h-2zM1101 401h1v1h-1zM1453 401h2v1h-2zM1559 401h2v1h-2zM1102 402h1v1h-1zM1451 402h2v1h-2zM1561 402h2v1h-2zM1102 403h1v1h-1zM1449 403h2v1h-2zM1563 403h3v1h-3zM1103 404h1v1h-1zM1447 404h2v1h-2zM1566 404h2v1h-2zM1658 404h3v1h-3zM1103 405h1v1h-1zM1445 405h2v1h-2zM1568 405h3v1h-3zM1654 405h4v1h-4zM1104 406h1v1h-1zM1424 406h8v1h-8zM1440 406h5v1h-5zM1571 406h3v1h-3zM1651 406h3v1h-3zM1104 407h1v1h-1zM1418 407h6v1h-6zM1432 407h8v1h-8zM1574 407h4v1h-4zM1649 407h2v1h-2zM1105 408h1v1h-1zM1414 408h4v1h-4zM1578 408h4v1h-4zM1647 408h2v1h-2zM1105 409h1v1h-1zM1411 409h3v1h-3zM1582 409h4v1h-4zM1645 409h2v1h-2zM1106 410h1v1h-1zM1409 410h2v1h-2zM1586 410h22v1h-22zM1640 410h5v1h-5zM1106 411h1v1h-1zM1407 411h2v1h-2zM1608 411h8v1h-8zM1624 411h16v1h-16zM1107 412h1v1h-1zM1405 412h2v1h-2zM1616 412h8v1h-8zM1107 413h1v1h-1zM1403 413h2v1h-2zM1108 414h1v1h-1zM1400 414h3v1h-3zM1109 415h1v1h-1zM1398 415h2v1h-2zM1109 416h1v1h-1zM1395 416h3v1h-3zM1110 417h1v1h-1zM1393 417h2v1h-2zM1110 418h1v1h-1zM1391 418h2v1h-2zM1111 419h1v1h-1zM1389 419h2v1h-2zM1111 420h1v1h-1zM1388 420h1v1h-1zM1112 421h1v1h-1zM1386 421h2v1h-2zM1112 422h1v1h-1zM1384 422h2v1h-2zM1113 423h1v1h-1zM1383 423h1v1h-1zM1113 424h1v1h-1zM1381 424h2v1h-2zM1114 425h1v1h-1zM1379 425h2v1h-2zM1114 426h1v1h-1zM1377 426h2v1h-2zM1115 427h1v1h-1zM1375 427h2v1h-2zM1115 428h1v1h-1zM1373 428h2v1h-2zM1116 429h1v1h-1zM1372 429h1v1h-1zM1117 430h1v1h-1zM1370 430h2v1h-2zM1117 431h1v1h-1zM1369 431h1v1h-1zM1118 432h1v1h-1zM1368 432h1v1h-1zM1118 433h1v1h-1zM1366 433h2v1h-2zM1119 434h1v1h-1zM1365 434h1v1h-1zM1120 435h1v1h-1zM1364 435h1v1h-1zM1120 436h1v1h-1zM1363 436h1v1h-1zM1121 437h1v1h-1zM1362 437h1v1h-1zM1122 438h1v1h-1zM1361 438h1v1h-1zM1122 439h1v1h-1zM1360 439h1v1h-1zM1123 440h1v1h-1zM1359 440h1v1h-1zM1123 441h1v1h-1zM1358 441h1v1h-1zM1124 442h1v1h-1zM1357 442h1v1h-1zM1125 443h1v1h-1zM1356 443h1v1h-1zM1125 444h1v1h-1zM1355 444h1v1h-1zM1126 445h1v1h-1zM1354 445h1v1h-1zM1127 446h1v1h-1zM1353 446h1v1h-1zM1127 447h1v1h-1zM1352 447h1v1h-1zM1128 448h1v1h-1zM1352 448h1v1h-1zM1129 449h1v1h-1zM1351 449h1v1h-1zM1129 450h1v1h-1zM1350 450h1v1h-1zM1130 451h1v1h-1zM1349 451h1v1h-1zM1131 452h1v1h-1zM1348 452h1v1h-1zM1131 453h1v1h-1zM1346 453h2v1h-2zM1132 454h1v1h-1zM1345 454h1v1h-1zM1133 455h2v1h-2zM1344 455h1v1h-1zM1135 456h1v1h-1zM1342 456h2v1h-2zM1136 457h2v1h-2zM1341 457h1v1h-1zM1138 458h2v1h-2zM1340 458h1v1h-1zM1140 459h1v1h-1zM1338 459h2v1h-2zM1141 460h1v1h-1zM1337 460h1v1h-1zM1142 461h2v1h-2zM1336 461h1v1h-1zM1144 462h1v1h-1zM1334 462h2v1h-2zM1145 463h1v1h-1zM1333 463h1v1h-1zM1146 464h2v1h-2zM1332 464h1v1h-1zM1148 465h1v1h-1zM1330 465h2v1h-2zM1149 466h1v1h-1zM1329 466h1v1h-1zM1149 467h1v1h-1zM1328 467h1v1h-1zM1150 468h1v1h-1zM1326 468h2v1h-2zM1151 469h1v1h-1zM1325 469h1v1h-1zM1152 470h1v1h-1zM1324 470h1v1h-1zM1152 471h1v1h-1zM1322 471h2v1h-2zM1153 472h1v1h-1zM1320 472h2v1h-2zM1154 473h1v1h-1zM1319 473h1v1h-1zM1155 474h1v1h-1zM1317 474h2v1h-2zM1155 475h1v1h-1zM1314 475h3v1h-3zM1156 476h1v1h-1zM1310 476h4v1h-4zM1157 477h1v1h-1zM1308 477h2v1h-2zM1158 478h1v1h-1zM1306 478h2v1h-2zM1159 479h1v1h-1zM1304 479h2v1h-2zM1160 480h1v1h-1zM1303 480h1v1h-1zM1160 481h1v1h-1zM1301 481h2v1h-2zM1161 482h1v1h-1zM1298 482h3v1h-3zM1162 483h1v1h-1zM1294 483h4v1h-4zM1163 484h1v1h-1zM1291 484h3v1h-3zM1164 485h1v1h-1zM1289 485h2v1h-2zM1165 486h1v1h-1zM1287 486h2v1h-2zM1166 487h2v1h-2zM1285 487h2v1h-2zM1168 488h1v1h-1zM1283 488h2v1h-2zM1169 489h1v1h-1zM1280 489h3v1h-3zM1170 490h2v1h-2zM1278 490h2v1h-2zM1172 491h1v1h-1zM1276 491h2v1h-2zM1173 492h1v1h-1zM1274 492h2v1h-2zM1174 493h1v1h-1zM1273 493h1v1h-1zM1175 494h1v1h-1zM1272 494h1v1h-1zM1176 495h2v1h-2zM1270 495h2v1h-2zM1178 496h1v1h-1zM1269 496h1v1h-1zM1179 497h1v1h-1zM1268 497h1v1h-1zM1180 498h1v1h-1zM1267 498h1v1h-1zM1181 499h1v1h-1zM1266 499h1v1h-1zM1182 500h1v1h-1zM1264 500h2v1h-2zM1183 501h1v1h-1zM1263 501h1v1h-1zM1184 502h2v1h-2zM1262 502h1v1h-1zM1186 503h1v1h-1zM1261 503h1v1h-1zM1187 504h1v1h-1zM1260 504h1v1h-1zM1188 505h1v1h-1zM1258 505h2v1h-2zM1189 506h1v1h-1zM1257 506h1v1h-1zM1190 507h1v1h-1zM1256 507h1v1h-1zM1191 508h1v1h-1zM1254 508h2v1h-2zM1192 509h1v1h-1zM1253 509h1v1h-1zM1193 510h1v1h-1zM1252 510h1v1h-1zM1194 511h1v1h-1zM1250 511h2v1h-2zM1195 512h1v1h-1zM1248 512h2v1h-2zM1196 513h1v1h-1zM1247 513h1v1h-1zM1197 514h1v1h-1zM1245 514h2v1h-2zM1198 515h2v1h-2zM1243 515h2v1h-2zM1200 516h1v1h-1zM1241 516h2v1h-2zM1201 517h1v1h-1zM1239 517h2v1h-2zM1202 518h2v1h-2zM1237 518h2v1h-2zM1204 519h1v1h-1zM1235 519h2v1h-2zM1205 520h2v1h-2zM1232 520h3v1h-3zM1207 521h2v1h-2zM1230 521h2v1h-2zM1209 522h2v1h-2zM1216 522h14v1h-14zM1211 523h5v1h-5z" fill="#ffa500" />
</g>
<g shape-rendering="crispEdges">
<rect x="4" y="104" width="1680" height="2" fill="#ff0000"/>
<rect x="4" y="213" width="1680" height="2" fill="#ff0000"/>
<rect x="4" y="359" width="1680" height="2" fill="#32cd32"/>
<rect x="4" y="522" width="1680" height="2" fill="#4169e1"/>
</g>
</g>
<path d="M7,40 L14,40 L10.5,44 Z" fill="#000"/>
<text x="18.2" y="45" font-size="10.0" fill="#000" stroke="#000" stroke-width="0.12" textLength="58.60" lengthAdjust="spacingAndGlyphs">XAUUSD-,H4</text>
<text x="81.8" y="45" font-size="10.0" fill="#000" stroke="#000" stroke-width="0.12" textLength="33.60" lengthAdjust="spacingAndGlyphs">1929.19</text>
<text x="118.0" y="45" font-size="10.0" fill="#000" stroke="#000" stroke-width="0.12" textLength="33.60" lengthAdjust="spacingAndGlyphs">1933.17</text>
<text x="153.6" y="45" font-size="10.0" fill="#000" stroke="#000" stroke-width="0.12" textLength="33.60" lengthAdjust="spacingAndGlyphs">1929.17</text>
<text x="189.5" y="45" font-size="10.0" fill="#000" stroke="#000" stroke-width="0.12" textLength="33.60" lengthAdjust="spacingAndGlyphs">1930.65</text>
<text x="496.5" y="470" font-size="34.5" fill="#e8101a" textLength="164" lengthAdjust="spacingAndGlyphs" font-family="'Liberation Sans', 'Noto Sans CJK SC', sans-serif">多空转折点</text>
<text x="661" y="470" font-size="36.5" fill="#e8101a" textLength="77" lengthAdjust="spacingAndGlyphs" font-family="'Liberation Sans', 'Noto Sans CJK SC', sans-serif">1910</text>
<g clip-path="url(#cd)" shape-rendering="crispEdges">
<rect x="4" y="656" width="1" height="30" fill="#c0c0c0"/>
<rect x="12" y="656" width="1" height="32" fill="#c0c0c0"/>
<rect x="20" y="656" width="1" height="36" fill="#c0c0c0"/>
<rect x="28" y="656" width="1" height="36" fill="#c0c0c0"/>
<rect x="36" y="656" width="1" height="34" fill="#c0c0c0"/>
<rect x="44" y="656" width="1" height="31" fill="#c0c0c0"/>
<rect x="52" y="656" width="1" height="34" fill="#c0c0c0"/>
<rect x="60" y="656" width="1" height="36" fill="#c0c0c0"/>
<rect x="68" y="656" width="1" height="34" fill="#c0c0c0"/>
<rect x="76" y="656" width="1" height="32" fill="#c0c0c0"/>
<rect x="84" y="656" width="1" height="33" fill="#c0c0c0"/>
<rect x="92" y="656" width="1" height="34" fill="#c0c0c0"/>
<rect x="100" y="656" width="1" height="34" fill="#c0c0c0"/>
<rect x="108" y="656" width="1" height="29" fill="#c0c0c0"/>
<rect x="116" y="656" width="1" height="19" fill="#c0c0c0"/>
<rect x="124" y="656" width="1" height="10" fill="#c0c0c0"/>
<rect x="132" y="656" width="1" height="7" fill="#c0c0c0"/>
<rect x="140" y="656" width="1" height="4" fill="#c0c0c0"/>
<rect x="148" y="656" width="1" height="2" fill="#c0c0c0"/>
<rect x="156" y="656" width="1" height="6" fill="#c0c0c0"/>
<rect x="164" y="656" width="1" height="7" fill="#c0c0c0"/>
<rect x="172" y="656" width="1" height="9" fill="#c0c0c0"/>
<rect x="180" y="656" width="1" height="7" fill="#c0c0c0"/>
<rect x="188" y="656" width="1" height="2" fill="#c0c0c0"/>
<rect x="196" y="651" width="1" height="6" fill="#c0c0c0"/>
<rect x="204" y="642" width="1" height="15" fill="#c0c0c0"/>
<rect x="212" y="636" width="1" height="21" fill="#c0c0c0"/>
<rect x="220" y="629" width="1" height="28" fill="#c0c0c0"/>
<rect x="228" y="625" width="1" height="32" fill="#c0c0c0"/>
<rect x="236" y="626" width="1" height="31" fill="#c0c0c0"/>
<rect x="244" y="625" width="1" height="32" fill="#c0c0c0"/>
<rect x="252" y="623" width="1" height="34" fill="#c0c0c0"/>
<rect x="260" y="623" width="1" height="34" fill="#c0c0c0"/>
<rect x="268" y="623" width="1" height="34" fill="#c0c0c0"/>
<rect x="276" y="617" width="1" height="40" fill="#c0c0c0"/>
<rect x="284" y="611" width="1" height="46" fill="#c0c0c0"/>
<rect x="292" y="608" width="1" height="49" fill="#c0c0c0"/>
<rect x="300" y="611" width="1" height="46" fill="#c0c0c0"/>
<rect x="308" y="615" width="1" height="42" fill="#c0c0c0"/>
<rect x="316" y="618" width="1" height="39" fill="#c0c0c0"/>
<rect x="324" y="623" width="1" height="34" fill="#c0c0c0"/>
<rect x="332" y="629" width="1" height="28" fill="#c0c0c0"/>
<rect x="340" y="635" width="1" height="22" fill="#c0c0c0"/>
<rect x="348" y="645" width="1" height="12" fill="#c0c0c0"/>
<rect x="356" y="653" width="1" height="4" fill="#c0c0c0"/>
<rect x="364" y="656" width="1" height="2" fill="#c0c0c0"/>
<rect x="372" y="656" width="1" height="6" fill="#c0c0c0"/>
<rect x="380" y="656" width="1" height="13" fill="#c0c0c0"/>
<rect x="388" y="656" width="1" height="18" fill="#c0c0c0"/>
<rect x="396" y="656" width="1" height="25" fill="#c0c0c0"/>
<rect x="404" y="656" width="1" height="29" fill="#c0c0c0"/>
<rect x="412" y="656" width="1" height="32" fill="#c0c0c0"/>
<rect x="420" y="656" width="1" height="32" fill="#c0c0c0"/>
<rect x="428" y="656" width="1" height="31" fill="#c0c0c0"/>
<rect x="436" y="656" width="1" height="29" fill="#c0c0c0"/>
<rect x="444" y="656" width="1" height="33" fill="#c0c0c0"/>
<rect x="452" y="656" width="1" height="31" fill="#c0c0c0"/>
<rect x="460" y="656" width="1" height="30" fill="#c0c0c0"/>
<rect x="468" y="656" width="1" height="28" fill="#c0c0c0"/>
<rect x="476" y="656" width="1" height="26" fill="#c0c0c0"/>
<rect x="484" y="656" width="1" height="28" fill="#c0c0c0"/>
<rect x="492" y="656" width="1" height="26" fill="#c0c0c0"/>
<rect x="500" y="656" width="1" height="26" fill="#c0c0c0"/>
<rect x="508" y="656" width="1" height="25" fill="#c0c0c0"/>
<rect x="516" y="656" width="1" height="26" fill="#c0c0c0"/>
<rect x="524" y="656" width="1" height="25" fill="#c0c0c0"/>
<rect x="532" y="656" width="1" height="27" fill="#c0c0c0"/>
<rect x="540" y="656" width="1" height="26" fill="#c0c0c0"/>
<rect x="548" y="656" width="1" height="24" fill="#c0c0c0"/>
<rect x="556" y="656" width="1" height="21" fill="#c0c0c0"/>
<rect x="564" y="656" width="1" height="20" fill="#c0c0c0"/>
<rect x="572" y="656" width="1" height="16" fill="#c0c0c0"/>
<rect x="580" y="656" width="1" height="18" fill="#c0c0c0"/>
<rect x="588" y="656" width="1" height="11" fill="#c0c0c0"/>
<rect x="596" y="656" width="1" height="5" fill="#c0c0c0"/>
<rect x="612" y="653" width="1" height="4" fill="#c0c0c0"/>
<rect x="620" y="651" width="1" height="6" fill="#c0c0c0"/>
<rect x="628" y="648" width="1" height="9" fill="#c0c0c0"/>
<rect x="636" y="642" width="1" height="15" fill="#c0c0c0"/>
<rect x="644" y="644" width="1" height="13" fill="#c0c0c0"/>
<rect x="652" y="644" width="1" height="13" fill="#c0c0c0"/>
<rect x="660" y="646" width="1" height="11" fill="#c0c0c0"/>
<rect x="668" y="647" width="1" height="10" fill="#c0c0c0"/>
<rect x="676" y="646" width="1" height="11" fill="#c0c0c0"/>
<rect x="684" y="645" width="1" height="12" fill="#c0c0c0"/>
<rect x="692" y="647" width="1" height="10" fill="#c0c0c0"/>
<rect x="700" y="648" width="1" height="9" fill="#c0c0c0"/>
<rect x="708" y="647" width="1" height="10" fill="#c0c0c0"/>
<rect x="716" y="647" width="1" height="10" fill="#c0c0c0"/>
<rect x="724" y="648" width="1" height="9" fill="#c0c0c0"/>
<rect x="732" y="645" width="1" height="12" fill="#c0c0c0"/>
<rect x="740" y="641" width="1" height="16" fill="#c0c0c0"/>
<rect x="748" y="639" width="1" height="18" fill="#c0c0c0"/>
<rect x="756" y="635" width="1" height="22" fill="#c0c0c0"/>
<rect x="764" y="633" width="1" height="24" fill="#c0c0c0"/>
<rect x="772" y="630" width="1" height="27" fill="#c0c0c0"/>
<rect x="780" y="633" width="1" height="24" fill="#c0c0c0"/>
<rect x="788" y="636" width="1" height="21" fill="#c0c0c0"/>
<rect x="796" y="638" width="1" height="19" fill="#c0c0c0"/>
<rect x="804" y="637" width="1" height="20" fill="#c0c0c0"/>
<rect x="812" y="636" width="1" height="21" fill="#c0c0c0"/>
<rect x="820" y="634" width="1" height="23" fill="#c0c0c0"/>
<rect x="828" y="635" width="1" height="22" fill="#c0c0c0"/>
<rect x="836" y="635" width="1" height="22" fill="#c0c0c0"/>
<rect x="844" y="637" width="1" height="20" fill="#c0c0c0"/>
<rect x="852" y="645" width="1" height="12" fill="#c0c0c0"/>
<rect x="860" y="650" width="1" height="7" fill="#c0c0c0"/>
<rect x="868" y="653" width="1" height="4" fill="#c0c0c0"/>
<rect x="892" y="656" width="1" height="2" fill="#c0c0c0"/>
<rect x="900" y="656" width="1" height="1" fill="#c0c0c0"/>
<rect x="964" y="656" width="1" height="7" fill="#c0c0c0"/>
<rect x="972" y="656" width="1" height="23" fill="#c0c0c0"/>
<rect x="980" y="656" width="1" height="32" fill="#c0c0c0"/>
<rect x="988" y="656" width="1" height="36" fill="#c0c0c0"/>
<rect x="996" y="656" width="1" height="40" fill="#c0c0c0"/>
<rect x="1004" y="656" width="1" height="48" fill="#c0c0c0"/>
<rect x="1012" y="656" width="1" height="51" fill="#c0c0c0"/>
<rect x="1020" y="656" width="1" height="55" fill="#c0c0c0"/>
<rect x="1028" y="656" width="1" height="56" fill="#c0c0c0"/>
<rect x="1036" y="656" width="1" height="56" fill="#c0c0c0"/>
<rect x="1044" y="656" width="1" height="59" fill="#c0c0c0"/>
<rect x="1052" y="656" width="1" height="67" fill="#c0c0c0"/>
<rect x="1060" y="656" width="1" height="69" fill="#c0c0c0"/>
<rect x="1068" y="656" width="1" height="77" fill="#c0c0c0"/>
<rect x="1076" y="656" width="1" height="83" fill="#c0c0c0"/>
<rect x="1084" y="656" width="1" height="90" fill="#c0c0c0"/>
<rect x="1092" y="656" width="1" height="93" fill="#c0c0c0"/>
<rect x="1100" y="656" width="1" height="93" fill="#c0c0c0"/>
<rect x="1108" y="656" width="1" height="93" fill="#c0c0c0"/>
<rect x="1116" y="656" width="1" height="88" fill="#c0c0c0"/>
<rect x="1124" y="656" width="1" height="83" fill="#c0c0c0"/>
<rect x="1132" y="656" width="1" height="79" fill="#c0c0c0"/>
<rect x="1140" y="656" width="1" height="74" fill="#c0c0c0"/>
<rect x="1148" y="656" width="1" height="68" fill="#c0c0c0"/>
<rect x="1156" y="656" width="1" height="68" fill="#c0c0c0"/>
<rect x="1164" y="656" width="1" height="66" fill="#c0c0c0"/>
<rect x="1172" y="656" width="1" height="63" fill="#c0c0c0"/>
<rect x="1180" y="656" width="1" height="60" fill="#c0c0c0"/>
<rect x="1188" y="656" width="1" height="57" fill="#c0c0c0"/>
<rect x="1196" y="656" width="1" height="56" fill="#c0c0c0"/>
<rect x="1204" y="656" width="1" height="52" fill="#c0c0c0"/>
<rect x="1212" y="656" width="1" height="45" fill="#c0c0c0"/>
<rect x="1220" y="656" width="1" height="37" fill="#c0c0c0"/>
<rect x="1228" y="656" width="1" height="29" fill="#c0c0c0"/>
<rect x="1236" y="656" width="1" height="23" fill="#c0c0c0"/>
<rect x="1244" y="656" width="1" height="16" fill="#c0c0c0"/>
<rect x="1252" y="656" width="1" height="12" fill="#c0c0c0"/>
<rect x="1260" y="656" width="1" height="6" fill="#c0c0c0"/>
<rect x="1276" y="651" width="1" height="6" fill="#c0c0c0"/>
<rect x="1284" y="649" width="1" height="8" fill="#c0c0c0"/>
<rect x="1292" y="649" width="1" height="8" fill="#c0c0c0"/>
<rect x="1300" y="650" width="1" height="7" fill="#c0c0c0"/>
<rect x="1308" y="646" width="1" height="11" fill="#c0c0c0"/>
<rect x="1316" y="647" width="1" height="10" fill="#c0c0c0"/>
<rect x="1324" y="647" width="1" height="10" fill="#c0c0c0"/>
<rect x="1332" y="646" width="1" height="11" fill="#c0c0c0"/>
<rect x="1340" y="644" width="1" height="13" fill="#c0c0c0"/>
<rect x="1348" y="641" width="1" height="16" fill="#c0c0c0"/>
<rect x="1356" y="635" width="1" height="22" fill="#c0c0c0"/>
<rect x="1364" y="633" width="1" height="24" fill="#c0c0c0"/>
<rect x="1372" y="632" width="1" height="25" fill="#c0c0c0"/>
<rect x="1380" y="635" width="1" height="22" fill="#c0c0c0"/>
<rect x="1388" y="632" width="1" height="25" fill="#c0c0c0"/>
<rect x="1396" y="630" width="1" height="27" fill="#c0c0c0"/>
<rect x="1404" y="632" width="1" height="25" fill="#c0c0c0"/>
<rect x="1412" y="633" width="1" height="24" fill="#c0c0c0"/>
<rect x="1420" y="634" width="1" height="23" fill="#c0c0c0"/>
<rect x="1428" y="638" width="1" height="19" fill="#c0c0c0"/>
<rect x="1436" y="642" width="1" height="15" fill="#c0c0c0"/>
<rect x="1444" y="642" width="1" height="15" fill="#c0c0c0"/>
<rect x="1452" y="638" width="1" height="19" fill="#c0c0c0"/>
<rect x="1460" y="636" width="1" height="21" fill="#c0c0c0"/>
<rect x="1468" y="634" width="1" height="23" fill="#c0c0c0"/>
<rect x="1476" y="633" width="1" height="24" fill="#c0c0c0"/>
<rect x="1484" y="634" width="1" height="23" fill="#c0c0c0"/>
<rect x="1492" y="631" width="1" height="26" fill="#c0c0c0"/>
<rect x="1500" y="635" width="1" height="22" fill="#c0c0c0"/>
<rect x="1508" y="643" width="1" height="14" fill="#c0c0c0"/>
<rect x="1516" y="653" width="1" height="4" fill="#c0c0c0"/>
<rect x="1532" y="656" width="1" height="3" fill="#c0c0c0"/>
<rect x="1540" y="656" width="1" height="6" fill="#c0c0c0"/>
<rect x="1548" y="656" width="1" height="9" fill="#c0c0c0"/>
<rect x="1556" y="656" width="1" height="11" fill="#c0c0c0"/>
<rect x="1564" y="656" width="1" height="12" fill="#c0c0c0"/>
<rect x="1572" y="656" width="1" height="13" fill="#c0c0c0"/>
<rect x="1580" y="656" width="1" height="12" fill="#c0c0c0"/>
<rect x="1588" y="656" width="1" height="9" fill="#c0c0c0"/>
<rect x="1596" y="656" width="1" height="9" fill="#c0c0c0"/>
<rect x="1604" y="656" width="1" height="8" fill="#c0c0c0"/>
<rect x="1612" y="656" width="1" height="7" fill="#c0c0c0"/>
<rect x="1628" y="651" width="1" height="6" fill="#c0c0c0"/>
<rect x="1636" y="646" width="1" height="11" fill="#c0c0c0"/>
<rect x="1644" y="640" width="1" height="17" fill="#c0c0c0"/>
<rect x="1652" y="632" width="1" height="25" fill="#c0c0c0"/>
<rect x="1660" y="626" width="1" height="31" fill="#c0c0c0"/>
<path d="M304 617h3v1h-3zM310 617h3v1h-3zM316 617h3v1h-3zM322 617h3v1h-3zM328 617h3v1h-3zM298 618h3v1h-3zM334 618h3v1h-3zM294 619h1v1h-1zM340 619h2v1h-2zM292 620h2v1h-2zM342 620h1v1h-1zM286 621h3v1h-3zM346 621h3v1h-3zM280 623h3v1h-3zM352 624h2v1h-2zM275 625h2v1h-2zM354 625h1v1h-1zM274 626h1v1h-1zM270 627h1v1h-1zM268 628h2v1h-2zM358 628h2v1h-2zM264 629h1v1h-1zM360 629h1v1h-1zM262 630h2v1h-2zM257 632h2v1h-2zM364 632h1v1h-1zM256 633h1v1h-1zM365 633h1v1h-1zM1416 633h1v1h-1zM1420 633h3v1h-3zM1426 633h3v1h-3zM366 634h1v1h-1zM1408 634h3v1h-3zM1414 634h2v1h-2zM1432 634h3v1h-3zM1438 634h2v1h-2zM251 635h2v1h-2zM802 635h3v1h-3zM808 635h3v1h-3zM814 635h3v1h-3zM820 635h3v1h-3zM826 635h3v1h-3zM832 635h3v1h-3zM838 635h2v1h-2zM1402 635h3v1h-3zM1440 635h1v1h-1zM1444 635h3v1h-3zM1450 635h3v1h-3zM250 636h1v1h-1zM792 636h1v1h-1zM796 636h3v1h-3zM840 636h1v1h-1zM844 636h3v1h-3zM1396 636h3v1h-3zM1456 636h3v1h-3zM1462 636h3v1h-3zM1468 636h3v1h-3zM1474 636h3v1h-3zM1480 636h3v1h-3zM1486 636h3v1h-3zM1492 636h3v1h-3zM1498 636h3v1h-3zM1504 636h3v1h-3zM1510 636h2v1h-2zM370 637h2v1h-2zM786 637h1v1h-1zM790 637h2v1h-2zM850 637h3v1h-3zM1390 637h3v1h-3zM1512 637h1v1h-1zM1516 637h2v1h-2zM245 638h2v1h-2zM372 638h1v1h-1zM784 638h2v1h-2zM856 638h3v1h-3zM1386 638h1v1h-1zM1518 638h1v1h-1zM244 639h1v1h-1zM778 639h3v1h-3zM862 639h3v1h-3zM1384 639h2v1h-2zM1522 639h1v1h-1zM772 640h3v1h-3zM868 640h2v1h-2zM1378 640h3v1h-3zM1523 640h2v1h-2zM240 641h1v1h-1zM376 641h1v1h-1zM766 641h3v1h-3zM870 641h1v1h-1zM1372 641h3v1h-3zM1528 641h2v1h-2zM239 642h1v1h-1zM377 642h1v1h-1zM762 642h1v1h-1zM874 642h3v1h-3zM1366 642h3v1h-3zM1530 642h1v1h-1zM238 643h1v1h-1zM378 643h1v1h-1zM760 643h2v1h-2zM880 643h2v1h-2zM1362 643h1v1h-1zM1534 643h2v1h-2zM754 644h3v1h-3zM882 644h1v1h-1zM1360 644h2v1h-2zM1536 644h1v1h-1zM233 645h2v1h-2zM688 645h3v1h-3zM694 645h3v1h-3zM700 645h3v1h-3zM744 645h1v1h-1zM748 645h3v1h-3zM886 645h2v1h-2zM1354 645h3v1h-3zM1540 645h2v1h-2zM232 646h1v1h-1zM382 646h2v1h-2zM682 646h3v1h-3zM706 646h3v1h-3zM712 646h3v1h-3zM718 646h2v1h-2zM736 646h3v1h-3zM742 646h2v1h-2zM888 646h1v1h-1zM1348 646h3v1h-3zM1542 646h1v1h-1zM384 647h1v1h-1zM672 647h1v1h-1zM676 647h3v1h-3zM720 647h1v1h-1zM724 647h3v1h-3zM730 647h3v1h-3zM892 647h2v1h-2zM1342 647h3v1h-3zM1546 647h1v1h-1zM227 648h2v1h-2zM664 648h3v1h-3zM670 648h2v1h-2zM894 648h1v1h-1zM1336 648h3v1h-3zM1547 648h2v1h-2zM226 649h1v1h-1zM659 649h2v1h-2zM898 649h1v1h-1zM1330 649h3v1h-3zM388 650h1v1h-1zM658 650h1v1h-1zM899 650h2v1h-2zM1326 650h1v1h-1zM1552 650h1v1h-1zM1660 650h1v1h-1zM221 651h2v1h-2zM389 651h1v1h-1zM654 651h1v1h-1zM904 651h2v1h-2zM1324 651h2v1h-2zM1553 651h2v1h-2zM220 652h1v1h-1zM390 652h1v1h-1zM652 652h2v1h-2zM906 652h1v1h-1zM1318 652h3v1h-3zM1655 652h2v1h-2zM216 653h1v1h-1zM648 653h1v1h-1zM910 653h3v1h-3zM1558 653h1v1h-1zM1654 653h1v1h-1zM214 654h2v1h-2zM646 654h2v1h-2zM916 654h3v1h-3zM1312 654h3v1h-3zM1559 654h2v1h-2zM394 655h2v1h-2zM922 655h3v1h-3zM1649 655h2v1h-2zM208 656h3v1h-3zM396 656h1v1h-1zM640 656h3v1h-3zM928 656h3v1h-3zM934 656h2v1h-2zM1307 656h2v1h-2zM1564 656h1v1h-1zM1648 656h1v1h-1zM936 657h1v1h-1zM940 657h3v1h-3zM946 657h3v1h-3zM952 657h3v1h-3zM958 657h3v1h-3zM964 657h2v1h-2zM1306 657h1v1h-1zM1565 657h2v1h-2zM202 658h3v1h-3zM635 658h2v1h-2zM966 658h1v1h-1zM1302 658h1v1h-1zM1643 658h2v1h-2zM198 659h1v1h-1zM400 659h1v1h-1zM634 659h1v1h-1zM970 659h1v1h-1zM1300 659h2v1h-2zM1570 659h1v1h-1zM1642 659h1v1h-1zM196 660h2v1h-2zM401 660h1v1h-1zM971 660h2v1h-2zM1571 660h2v1h-2zM1638 660h1v1h-1zM190 661h3v1h-3zM402 661h1v1h-1zM629 661h2v1h-2zM1295 661h2v1h-2zM1636 661h2v1h-2zM186 662h1v1h-1zM628 662h1v1h-1zM976 662h3v1h-3zM1294 662h1v1h-1zM1576 662h3v1h-3zM1632 662h1v1h-1zM184 663h2v1h-2zM1630 663h2v1h-2zM179 664h2v1h-2zM406 664h2v1h-2zM623 664h2v1h-2zM982 664h1v1h-1zM1290 664h1v1h-1zM1582 664h3v1h-3zM1626 664h1v1h-1zM178 665h1v1h-1zM408 665h1v1h-1zM622 665h1v1h-1zM983 665h2v1h-2zM1288 665h2v1h-2zM1588 665h3v1h-3zM1624 665h2v1h-2zM174 666h1v1h-1zM618 666h1v1h-1zM1594 666h3v1h-3zM1600 666h3v1h-3zM1606 666h3v1h-3zM1612 666h3v1h-3zM1618 666h3v1h-3zM172 667h2v1h-2zM616 667h2v1h-2zM988 667h1v1h-1zM166 668h3v1h-3zM412 668h1v1h-1zM611 668h2v1h-2zM989 668h2v1h-2zM1284 668h1v1h-1zM413 669h2v1h-2zM610 669h1v1h-1zM1282 669h2v1h-2zM160 670h3v1h-3zM994 670h1v1h-1zM605 671h2v1h-2zM995 671h2v1h-2zM155 672h2v1h-2zM418 672h2v1h-2zM604 672h1v1h-1zM1278 672h1v1h-1zM154 673h1v1h-1zM420 673h1v1h-1zM600 673h1v1h-1zM1277 673h1v1h-1zM150 674h1v1h-1zM598 674h2v1h-2zM1000 674h1v1h-1zM1276 674h1v1h-1zM148 675h2v1h-2zM424 675h1v1h-1zM594 675h1v1h-1zM1001 675h1v1h-1zM425 676h2v1h-2zM592 676h2v1h-2zM1002 676h1v1h-1zM143 677h2v1h-2zM586 677h3v1h-3zM1272 677h1v1h-1zM142 678h1v1h-1zM430 678h2v1h-2zM582 678h1v1h-1zM1006 678h1v1h-1zM1270 678h2v1h-2zM432 679h1v1h-1zM576 679h1v1h-1zM580 679h2v1h-2zM1007 679h1v1h-1zM136 680h3v1h-3zM436 680h2v1h-2zM568 680h3v1h-3zM574 680h2v1h-2zM1008 680h1v1h-1zM438 681h1v1h-1zM562 681h3v1h-3zM131 682h2v1h-2zM442 682h1v1h-1zM544 682h3v1h-3zM550 682h3v1h-3zM556 682h3v1h-3zM1012 682h1v1h-1zM1266 682h1v1h-1zM130 683h1v1h-1zM443 683h2v1h-2zM520 683h3v1h-3zM526 683h3v1h-3zM532 683h3v1h-3zM538 683h3v1h-3zM1013 683h1v1h-1zM1264 683h2v1h-2zM448 684h2v1h-2zM514 684h3v1h-3zM1014 684h1v1h-1zM125 685h2v1h-2zM450 685h1v1h-1zM454 685h2v1h-2zM490 685h3v1h-3zM496 685h3v1h-3zM502 685h3v1h-3zM508 685h3v1h-3zM124 686h1v1h-1zM456 686h1v1h-1zM460 686h3v1h-3zM480 686h1v1h-1zM484 686h3v1h-3zM118 687h3v1h-3zM466 687h3v1h-3zM472 687h3v1h-3zM478 687h2v1h-2zM1018 687h2v1h-2zM1260 687h1v1h-1zM114 688h1v1h-1zM1020 688h1v1h-1zM1258 688h2v1h-2zM112 689h2v1h-2zM64 690h3v1h-3zM70 690h3v1h-3zM76 690h3v1h-3zM82 690h3v1h-3zM88 690h3v1h-3zM94 690h3v1h-3zM100 690h3v1h-3zM106 690h3v1h-3zM48 691h1v1h-1zM52 691h3v1h-3zM58 691h3v1h-3zM1024 691h1v1h-1zM1253 691h2v1h-2zM4 692h3v1h-3zM34 692h3v1h-3zM40 692h3v1h-3zM46 692h2v1h-2zM1025 692h1v1h-1zM1252 692h1v1h-1zM10 693h3v1h-3zM16 693h3v1h-3zM22 693h3v1h-3zM28 693h3v1h-3zM1026 693h1v1h-1zM1248 695h1v1h-1zM1030 696h2v1h-2zM1246 696h2v1h-2zM1032 697h1v1h-1zM1242 699h1v1h-1zM1036 700h1v1h-1zM1240 700h2v1h-2zM1037 701h2v1h-2zM1042 703h1v1h-1zM1236 703h1v1h-1zM1043 704h2v1h-2zM1234 704h2v1h-2zM1048 706h1v1h-1zM1049 707h2v1h-2zM1229 707h2v1h-2zM1228 708h1v1h-1zM1054 709h1v1h-1zM1055 710h2v1h-2zM1223 710h2v1h-2zM1222 711h1v1h-1zM1060 712h1v1h-1zM1061 713h2v1h-2zM1216 713h3v1h-3zM1066 715h1v1h-1zM1211 715h2v1h-2zM1067 716h2v1h-2zM1210 716h1v1h-1zM1072 718h3v1h-3zM1205 718h2v1h-2zM1204 719h1v1h-1zM1078 720h1v1h-1zM1200 720h1v1h-1zM1079 721h1v1h-1zM1198 721h2v1h-2zM1080 722h1v1h-1zM1192 723h3v1h-3zM1084 724h1v1h-1zM1085 725h2v1h-2zM1187 725h2v1h-2zM1186 726h1v1h-1zM1090 727h1v1h-1zM1091 728h2v1h-2zM1181 728h2v1h-2zM1180 729h1v1h-1zM1176 730h1v1h-1zM1096 731h2v1h-2zM1174 731h2v1h-2zM1098 732h1v1h-1zM1168 733h3v1h-3zM1102 734h1v1h-1zM1103 735h2v1h-2zM1163 735h2v1h-2zM1162 736h1v1h-1zM1108 737h2v1h-2zM1158 737h1v1h-1zM1110 738h1v1h-1zM1156 738h2v1h-2zM1114 739h1v1h-1zM1152 739h1v1h-1zM1115 740h2v1h-2zM1150 740h2v1h-2zM1120 741h2v1h-2zM1144 741h3v1h-3zM1122 742h1v1h-1zM1126 742h2v1h-2zM1138 742h3v1h-3zM1128 743h1v1h-1zM1132 743h3v1h-3z" fill="#ff0000" />
</g>
<text x="7.6" y="611" font-size="10.0" fill="#000" stroke="#000" stroke-width="0.12" textLength="118.44" lengthAdjust="spacingAndGlyphs" xml:space="preserve" >MACD(12,26,9) 7.165 1.580</text>
<g clip-path="url(#cr)" shape-rendering="crispEdges">
<line x1="5" y1="795.5" x2="1684" y2="795.5" stroke="#c0c0c0" stroke-width="1" stroke-dasharray="3,3"/>
<line x1="5" y1="840.5" x2="1684" y2="840.5" stroke="#c0c0c0" stroke-width="1" stroke-dasharray="3,3"/>
<path d="M1658 793h3v1h-3zM1654 794h4v1h-4zM1651 795h3v1h-3zM283 796h3v1h-3zM1649 796h2v1h-2zM281 797h2v1h-2zM286 797h4v1h-4zM1647 797h2v1h-2zM279 798h2v1h-2zM290 798h3v1h-3zM1645 798h2v1h-2zM277 799h2v1h-2zM293 799h1v1h-1zM1643 799h2v1h-2zM276 800h1v1h-1zM293 800h1v1h-1zM1356 800h1v1h-1zM1641 800h2v1h-2zM275 801h1v1h-1zM294 801h1v1h-1zM1354 801h2v1h-2zM1357 801h1v1h-1zM1639 801h2v1h-2zM218 802h6v1h-6zM274 802h1v1h-1zM295 802h1v1h-1zM636 802h1v1h-1zM771 802h2v1h-2zM1353 802h1v1h-1zM1358 802h2v1h-2zM1637 802h2v1h-2zM214 803h4v1h-4zM224 803h5v1h-5zM272 803h2v1h-2zM295 803h1v1h-1zM635 803h1v1h-1zM637 803h1v1h-1zM755 803h3v1h-3zM768 803h3v1h-3zM773 803h1v1h-1zM1352 803h1v1h-1zM1360 803h1v1h-1zM1627 803h10v1h-10zM200 804h14v1h-14zM229 804h1v1h-1zM271 804h1v1h-1zM296 804h1v1h-1zM634 804h1v1h-1zM637 804h1v1h-1zM753 804h2v1h-2zM758 804h4v1h-4zM766 804h2v1h-2zM773 804h1v1h-1zM1268 804h4v1h-4zM1350 804h2v1h-2zM1361 804h1v1h-1zM1624 804h3v1h-3zM196 805h4v1h-4zM230 805h1v1h-1zM270 805h1v1h-1zM297 805h1v1h-1zM633 805h1v1h-1zM638 805h1v1h-1zM751 805h2v1h-2zM762 805h4v1h-4zM774 805h1v1h-1zM827 805h2v1h-2zM1266 805h2v1h-2zM1272 805h5v1h-5zM1349 805h1v1h-1zM1362 805h2v1h-2zM1388 805h4v1h-4zM1452 805h2v1h-2zM1492 805h1v1h-1zM1622 805h2v1h-2zM195 806h1v1h-1zM231 806h1v1h-1zM250 806h6v1h-6zM269 806h1v1h-1zM297 806h1v1h-1zM632 806h1v1h-1zM638 806h1v1h-1zM732 806h12v1h-12zM749 806h2v1h-2zM774 806h1v1h-1zM824 806h3v1h-3zM829 806h1v1h-1zM1264 806h2v1h-2zM1277 806h1v1h-1zM1347 806h2v1h-2zM1364 806h4v1h-4zM1387 806h1v1h-1zM1392 806h5v1h-5zM1451 806h1v1h-1zM1454 806h2v1h-2zM1466 806h6v1h-6zM1490 806h2v1h-2zM1493 806h1v1h-1zM1620 806h2v1h-2zM194 807h1v1h-1zM232 807h1v1h-1zM246 807h4v1h-4zM256 807h13v1h-13zM298 807h1v1h-1zM631 807h1v1h-1zM639 807h1v1h-1zM731 807h1v1h-1zM744 807h5v1h-5zM775 807h1v1h-1zM811 807h5v1h-5zM822 807h2v1h-2zM830 807h1v1h-1zM1263 807h1v1h-1zM1278 807h1v1h-1zM1308 807h1v1h-1zM1344 807h3v1h-3zM1368 807h5v1h-5zM1386 807h1v1h-1zM1397 807h1v1h-1zM1450 807h1v1h-1zM1456 807h3v1h-3zM1462 807h4v1h-4zM1472 807h5v1h-5zM1489 807h1v1h-1zM1493 807h1v1h-1zM1619 807h1v1h-1zM192 808h2v1h-2zM232 808h1v1h-1zM243 808h3v1h-3zM299 808h1v1h-1zM595 808h3v1h-3zM630 808h1v1h-1zM640 808h1v1h-1zM730 808h1v1h-1zM775 808h1v1h-1zM809 808h2v1h-2zM816 808h6v1h-6zM831 808h1v1h-1zM1261 808h2v1h-2zM1279 808h1v1h-1zM1307 808h1v1h-1zM1309 808h1v1h-1zM1342 808h2v1h-2zM1373 808h1v1h-1zM1386 808h1v1h-1zM1398 808h1v1h-1zM1449 808h1v1h-1zM1459 808h3v1h-3zM1477 808h2v1h-2zM1488 808h1v1h-1zM1494 808h1v1h-1zM1618 808h1v1h-1zM191 809h1v1h-1zM233 809h1v1h-1zM241 809h2v1h-2zM299 809h1v1h-1zM593 809h2v1h-2zM598 809h4v1h-4zM629 809h1v1h-1zM640 809h1v1h-1zM730 809h1v1h-1zM776 809h1v1h-1zM807 809h2v1h-2zM832 809h1v1h-1zM1259 809h2v1h-2zM1280 809h2v1h-2zM1306 809h1v1h-1zM1310 809h1v1h-1zM1338 809h4v1h-4zM1374 809h1v1h-1zM1385 809h1v1h-1zM1399 809h1v1h-1zM1448 809h1v1h-1zM1479 809h2v1h-2zM1486 809h2v1h-2zM1495 809h1v1h-1zM1618 809h1v1h-1zM120 810h5v1h-5zM190 810h1v1h-1zM234 810h1v1h-1zM239 810h2v1h-2zM300 810h2v1h-2zM591 810h2v1h-2zM602 810h12v1h-12zM627 810h2v1h-2zM641 810h1v1h-1zM683 810h2v1h-2zM729 810h1v1h-1zM777 810h1v1h-1zM805 810h2v1h-2zM833 810h1v1h-1zM1256 810h3v1h-3zM1282 810h1v1h-1zM1306 810h1v1h-1zM1311 810h1v1h-1zM1334 810h4v1h-4zM1375 810h1v1h-1zM1384 810h1v1h-1zM1400 810h2v1h-2zM1447 810h1v1h-1zM1481 810h2v1h-2zM1485 810h1v1h-1zM1496 810h1v1h-1zM1617 810h1v1h-1zM115 811h5v1h-5zM125 811h2v1h-2zM189 811h1v1h-1zM235 811h1v1h-1zM237 811h2v1h-2zM302 811h4v1h-4zM312 811h5v1h-5zM589 811h2v1h-2zM614 811h2v1h-2zM624 811h3v1h-3zM642 811h1v1h-1zM681 811h2v1h-2zM685 811h1v1h-1zM728 811h1v1h-1zM777 811h1v1h-1zM803 811h2v1h-2zM834 811h1v1h-1zM1254 811h2v1h-2zM1283 811h1v1h-1zM1305 811h1v1h-1zM1312 811h1v1h-1zM1331 811h3v1h-3zM1376 811h1v1h-1zM1383 811h1v1h-1zM1402 811h1v1h-1zM1410 811h11v1h-11zM1446 811h1v1h-1zM1483 811h2v1h-2zM1496 811h1v1h-1zM1616 811h1v1h-1zM113 812h2v1h-2zM127 812h1v1h-1zM187 812h2v1h-2zM236 812h1v1h-1zM306 812h6v1h-6zM317 812h2v1h-2zM588 812h1v1h-1zM616 812h3v1h-3zM622 812h2v1h-2zM642 812h1v1h-1zM679 812h2v1h-2zM686 812h1v1h-1zM707 812h3v1h-3zM727 812h1v1h-1zM778 812h1v1h-1zM800 812h3v1h-3zM835 812h1v1h-1zM840 812h5v1h-5zM1250 812h4v1h-4zM1284 812h4v1h-4zM1304 812h1v1h-1zM1312 812h1v1h-1zM1329 812h2v1h-2zM1377 812h1v1h-1zM1382 812h1v1h-1zM1403 812h1v1h-1zM1406 812h4v1h-4zM1421 812h1v1h-1zM1445 812h1v1h-1zM1497 812h1v1h-1zM1615 812h1v1h-1zM111 813h2v1h-2zM128 813h2v1h-2zM185 813h2v1h-2zM319 813h1v1h-1zM587 813h1v1h-1zM619 813h3v1h-3zM643 813h1v1h-1zM677 813h2v1h-2zM687 813h1v1h-1zM704 813h3v1h-3zM710 813h2v1h-2zM726 813h1v1h-1zM778 813h1v1h-1zM798 813h2v1h-2zM836 813h4v1h-4zM845 813h1v1h-1zM1246 813h4v1h-4zM1288 813h5v1h-5zM1303 813h1v1h-1zM1313 813h1v1h-1zM1327 813h2v1h-2zM1378 813h1v1h-1zM1382 813h1v1h-1zM1404 813h2v1h-2zM1422 813h1v1h-1zM1444 813h1v1h-1zM1498 813h1v1h-1zM1614 813h1v1h-1zM109 814h2v1h-2zM130 814h2v1h-2zM136 814h5v1h-5zM183 814h2v1h-2zM320 814h2v1h-2zM587 814h1v1h-1zM643 814h1v1h-1zM675 814h2v1h-2zM688 814h1v1h-1zM702 814h2v1h-2zM712 814h3v1h-3zM726 814h1v1h-1zM779 814h1v1h-1zM786 814h12v1h-12zM845 814h1v1h-1zM1226 814h20v1h-20zM1293 814h2v1h-2zM1302 814h1v1h-1zM1314 814h1v1h-1zM1325 814h2v1h-2zM1379 814h1v1h-1zM1381 814h1v1h-1zM1423 814h1v1h-1zM1443 814h1v1h-1zM1499 814h1v1h-1zM1614 814h1v1h-1zM108 815h1v1h-1zM132 815h4v1h-4zM141 815h2v1h-2zM181 815h2v1h-2zM322 815h2v1h-2zM586 815h1v1h-1zM644 815h10v1h-10zM673 815h2v1h-2zM689 815h1v1h-1zM699 815h3v1h-3zM715 815h5v1h-5zM725 815h1v1h-1zM779 815h1v1h-1zM782 815h4v1h-4zM846 815h1v1h-1zM907 815h2v1h-2zM1222 815h4v1h-4zM1295 815h2v1h-2zM1302 815h1v1h-1zM1315 815h1v1h-1zM1320 815h5v1h-5zM1380 815h1v1h-1zM1424 815h1v1h-1zM1442 815h1v1h-1zM1499 815h1v1h-1zM1613 815h1v1h-1zM107 816h1v1h-1zM143 816h2v1h-2zM180 816h1v1h-1zM324 816h2v1h-2zM586 816h1v1h-1zM654 816h2v1h-2zM671 816h2v1h-2zM690 816h1v1h-1zM696 816h3v1h-3zM720 816h5v1h-5zM780 816h2v1h-2zM846 816h1v1h-1zM904 816h3v1h-3zM909 816h2v1h-2zM923 816h3v1h-3zM947 816h2v1h-2zM1220 816h2v1h-2zM1297 816h2v1h-2zM1301 816h1v1h-1zM1316 816h4v1h-4zM1425 816h1v1h-1zM1440 816h2v1h-2zM1500 816h1v1h-1zM1610 816h3v1h-3zM107 817h1v1h-1zM145 817h2v1h-2zM179 817h1v1h-1zM326 817h4v1h-4zM585 817h1v1h-1zM656 817h3v1h-3zM669 817h2v1h-2zM691 817h1v1h-1zM694 817h2v1h-2zM847 817h1v1h-1zM902 817h2v1h-2zM911 817h2v1h-2zM920 817h3v1h-3zM926 817h2v1h-2zM945 817h2v1h-2zM949 817h2v1h-2zM1218 817h2v1h-2zM1299 817h2v1h-2zM1426 817h1v1h-1zM1439 817h1v1h-1zM1501 817h1v1h-1zM1606 817h4v1h-4zM4 818h1v1h-1zM106 818h1v1h-1zM147 818h2v1h-2zM178 818h1v1h-1zM330 818h4v1h-4zM584 818h1v1h-1zM659 818h10v1h-10zM692 818h2v1h-2zM847 818h1v1h-1zM899 818h3v1h-3zM913 818h2v1h-2zM918 818h2v1h-2zM928 818h3v1h-3zM943 818h2v1h-2zM951 818h1v1h-1zM1217 818h1v1h-1zM1427 818h1v1h-1zM1438 818h1v1h-1zM1502 818h1v1h-1zM1603 818h3v1h-3zM5 819h1v1h-1zM106 819h1v1h-1zM149 819h1v1h-1zM177 819h1v1h-1zM334 819h4v1h-4zM584 819h1v1h-1zM848 819h1v1h-1zM897 819h2v1h-2zM915 819h3v1h-3zM931 819h5v1h-5zM941 819h2v1h-2zM952 819h2v1h-2zM1216 819h1v1h-1zM1428 819h4v1h-4zM1437 819h1v1h-1zM1502 819h1v1h-1zM1586 819h4v1h-4zM1601 819h2v1h-2zM6 820h1v1h-1zM105 820h1v1h-1zM150 820h2v1h-2zM176 820h1v1h-1zM338 820h3v1h-3zM547 820h5v1h-5zM568 820h5v1h-5zM583 820h1v1h-1zM848 820h1v1h-1zM884 820h2v1h-2zM895 820h2v1h-2zM936 820h5v1h-5zM954 820h2v1h-2zM1214 820h2v1h-2zM1432 820h5v1h-5zM1503 820h1v1h-1zM1582 820h4v1h-4zM1590 820h2v1h-2zM1599 820h2v1h-2zM7 821h1v1h-1zM105 821h1v1h-1zM152 821h1v1h-1zM175 821h1v1h-1zM341 821h1v1h-1zM545 821h2v1h-2zM552 821h16v1h-16zM573 821h2v1h-2zM582 821h1v1h-1zM849 821h1v1h-1zM867 821h2v1h-2zM882 821h2v1h-2zM886 821h4v1h-4zM893 821h2v1h-2zM956 821h1v1h-1zM1213 821h1v1h-1zM1504 821h1v1h-1zM1532 821h2v1h-2zM1580 821h2v1h-2zM1592 821h3v1h-3zM1597 821h2v1h-2zM8 822h1v1h-1zM35 822h5v1h-5zM104 822h1v1h-1zM153 822h1v1h-1zM162 822h4v1h-4zM174 822h1v1h-1zM342 822h1v1h-1zM543 822h2v1h-2zM575 822h1v1h-1zM582 822h1v1h-1zM849 822h1v1h-1zM865 822h2v1h-2zM869 822h2v1h-2zM880 822h2v1h-2zM890 822h3v1h-3zM957 822h1v1h-1zM1212 822h1v1h-1zM1505 822h1v1h-1zM1531 822h1v1h-1zM1534 822h2v1h-2zM1578 822h2v1h-2zM1595 822h2v1h-2zM9 823h1v1h-1zM33 823h2v1h-2zM40 823h5v1h-5zM104 823h1v1h-1zM154 823h2v1h-2zM158 823h4v1h-4zM166 823h4v1h-4zM173 823h1v1h-1zM343 823h1v1h-1zM464 823h6v1h-6zM524 823h1v1h-1zM541 823h2v1h-2zM576 823h2v1h-2zM581 823h1v1h-1zM850 823h1v1h-1zM863 823h2v1h-2zM871 823h2v1h-2zM879 823h1v1h-1zM958 823h1v1h-1zM1211 823h1v1h-1zM1506 823h1v1h-1zM1530 823h1v1h-1zM1536 823h3v1h-3zM1576 823h2v1h-2zM10 824h1v1h-1zM31 824h2v1h-2zM45 824h2v1h-2zM72 824h8v1h-8zM103 824h1v1h-1zM156 824h2v1h-2zM170 824h3v1h-3zM344 824h1v1h-1zM452 824h12v1h-12zM470 824h2v1h-2zM523 824h1v1h-1zM525 824h1v1h-1zM540 824h1v1h-1zM578 824h2v1h-2zM581 824h1v1h-1zM850 824h1v1h-1zM861 824h2v1h-2zM873 824h2v1h-2zM877 824h2v1h-2zM958 824h1v1h-1zM1210 824h1v1h-1zM1506 824h1v1h-1zM1528 824h2v1h-2zM1539 824h3v1h-3zM1575 824h1v1h-1zM11 825h1v1h-1zM29 825h2v1h-2zM47 825h2v1h-2zM68 825h4v1h-4zM80 825h5v1h-5zM103 825h1v1h-1zM344 825h1v1h-1zM435 825h2v1h-2zM451 825h1v1h-1zM472 825h3v1h-3zM522 825h1v1h-1zM526 825h1v1h-1zM539 825h1v1h-1zM580 825h1v1h-1zM851 825h1v1h-1zM859 825h2v1h-2zM875 825h2v1h-2zM959 825h1v1h-1zM1208 825h2v1h-2zM1507 825h1v1h-1zM1527 825h1v1h-1zM1542 825h4v1h-4zM1552 825h16v1h-16zM1573 825h2v1h-2zM12 826h4v1h-4zM24 826h5v1h-5zM49 826h2v1h-2zM66 826h2v1h-2zM85 826h2v1h-2zM102 826h1v1h-1zM345 826h1v1h-1zM432 826h3v1h-3zM437 826h1v1h-1zM451 826h1v1h-1zM475 826h5v1h-5zM488 826h8v1h-8zM504 826h5v1h-5zM520 826h2v1h-2zM527 826h1v1h-1zM538 826h1v1h-1zM851 826h1v1h-1zM856 826h3v1h-3zM960 826h1v1h-1zM1207 826h1v1h-1zM1508 826h1v1h-1zM1526 826h1v1h-1zM1546 826h6v1h-6zM1568 826h5v1h-5zM16 827h8v1h-8zM51 827h3v1h-3zM64 827h2v1h-2zM87 827h2v1h-2zM102 827h1v1h-1zM346 827h1v1h-1zM368 827h5v1h-5zM420 827h4v1h-4zM430 827h2v1h-2zM438 827h1v1h-1zM450 827h1v1h-1zM480 827h8v1h-8zM496 827h8v1h-8zM509 827h2v1h-2zM519 827h1v1h-1zM528 827h1v1h-1zM537 827h1v1h-1zM852 827h1v1h-1zM854 827h2v1h-2zM961 827h1v1h-1zM1206 827h1v1h-1zM1509 827h2v1h-2zM1525 827h1v1h-1zM54 828h2v1h-2zM63 828h1v1h-1zM89 828h2v1h-2zM101 828h1v1h-1zM347 828h1v1h-1zM360 828h8v1h-8zM373 828h1v1h-1zM419 828h1v1h-1zM424 828h6v1h-6zM438 828h1v1h-1zM449 828h1v1h-1zM511 828h2v1h-2zM518 828h1v1h-1zM528 828h1v1h-1zM536 828h1v1h-1zM852 828h2v1h-2zM962 828h1v1h-1zM1205 828h1v1h-1zM1511 828h2v1h-2zM1522 828h3v1h-3zM56 829h3v1h-3zM61 829h2v1h-2zM91 829h5v1h-5zM101 829h1v1h-1zM348 829h12v1h-12zM374 829h2v1h-2zM418 829h1v1h-1zM439 829h1v1h-1zM448 829h1v1h-1zM513 829h2v1h-2zM517 829h1v1h-1zM529 829h1v1h-1zM535 829h1v1h-1zM962 829h1v1h-1zM1148 829h1v1h-1zM1204 829h1v1h-1zM1513 829h2v1h-2zM1518 829h4v1h-4zM59 830h2v1h-2zM96 830h5v1h-5zM376 830h1v1h-1zM417 830h1v1h-1zM440 830h1v1h-1zM448 830h1v1h-1zM515 830h2v1h-2zM530 830h1v1h-1zM534 830h1v1h-1zM963 830h1v1h-1zM1146 830h2v1h-2zM1149 830h1v1h-1zM1202 830h2v1h-2zM1515 830h3v1h-3zM377 831h1v1h-1zM416 831h1v1h-1zM441 831h1v1h-1zM447 831h1v1h-1zM531 831h1v1h-1zM533 831h1v1h-1zM964 831h1v1h-1zM1144 831h2v1h-2zM1150 831h1v1h-1zM1200 831h2v1h-2zM378 832h2v1h-2zM415 832h1v1h-1zM442 832h1v1h-1zM446 832h1v1h-1zM532 832h1v1h-1zM965 832h1v1h-1zM988 832h2v1h-2zM1143 832h1v1h-1zM1151 832h1v1h-1zM1171 832h11v1h-11zM1199 832h1v1h-1zM380 833h4v1h-4zM414 833h1v1h-1zM442 833h1v1h-1zM445 833h1v1h-1zM965 833h1v1h-1zM986 833h2v1h-2zM990 833h2v1h-2zM1141 833h2v1h-2zM1152 833h2v1h-2zM1168 833h3v1h-3zM1182 833h4v1h-4zM1197 833h2v1h-2zM384 834h5v1h-5zM413 834h1v1h-1zM443 834h1v1h-1zM445 834h1v1h-1zM966 834h1v1h-1zM984 834h2v1h-2zM992 834h3v1h-3zM1012 834h1v1h-1zM1032 834h5v1h-5zM1116 834h25v1h-25zM1154 834h1v1h-1zM1166 834h2v1h-2zM1186 834h11v1h-11zM389 835h2v1h-2zM403 835h10v1h-10zM444 835h1v1h-1zM966 835h1v1h-1zM983 835h1v1h-1zM995 835h2v1h-2zM1010 835h2v1h-2zM1013 835h2v1h-2zM1027 835h5v1h-5zM1037 835h2v1h-2zM1115 835h1v1h-1zM1155 835h1v1h-1zM1160 835h6v1h-6zM391 836h2v1h-2zM400 836h3v1h-3zM967 836h1v1h-1zM981 836h2v1h-2zM997 836h2v1h-2zM1008 836h2v1h-2zM1015 836h2v1h-2zM1024 836h3v1h-3zM1039 836h2v1h-2zM1114 836h1v1h-1zM1156 836h4v1h-4zM393 837h2v1h-2zM398 837h2v1h-2zM967 837h1v1h-1zM980 837h1v1h-1zM999 837h2v1h-2zM1007 837h1v1h-1zM1017 837h2v1h-2zM1022 837h2v1h-2zM1041 837h2v1h-2zM1114 837h1v1h-1zM395 838h3v1h-3zM968 838h1v1h-1zM979 838h1v1h-1zM1001 838h2v1h-2zM1005 838h2v1h-2zM1019 838h3v1h-3zM1043 838h2v1h-2zM1113 838h1v1h-1zM968 839h1v1h-1zM978 839h1v1h-1zM1003 839h2v1h-2zM1045 839h1v1h-1zM1112 839h1v1h-1zM969 840h1v1h-1zM977 840h1v1h-1zM1046 840h2v1h-2zM1059 840h2v1h-2zM1111 840h1v1h-1zM969 841h1v1h-1zM976 841h1v1h-1zM1048 841h1v1h-1zM1057 841h2v1h-2zM1061 841h1v1h-1zM1110 841h1v1h-1zM970 842h1v1h-1zM976 842h1v1h-1zM1049 842h1v1h-1zM1055 842h2v1h-2zM1062 842h2v1h-2zM1099 842h3v1h-3zM1110 842h1v1h-1zM970 843h1v1h-1zM975 843h1v1h-1zM1050 843h2v1h-2zM1053 843h2v1h-2zM1064 843h1v1h-1zM1097 843h2v1h-2zM1102 843h4v1h-4zM1109 843h1v1h-1zM971 844h1v1h-1zM974 844h1v1h-1zM1052 844h1v1h-1zM1065 844h1v1h-1zM1095 844h2v1h-2zM1106 844h3v1h-3zM971 845h1v1h-1zM973 845h1v1h-1zM1066 845h2v1h-2zM1093 845h2v1h-2zM972 846h1v1h-1zM1068 846h12v1h-12zM1088 846h5v1h-5zM1080 847h8v1h-8z" fill="#1e90ff" />
</g>
<text x="7.6" y="772" font-size="10.0" fill="#000" stroke="#000" stroke-width="0.12" textLength="68.53" lengthAdjust="spacingAndGlyphs" xml:space="preserve" >RSI(14) 71.0547</text>
<g shape-rendering="crispEdges" fill="#000">
<rect x="1685" y="65" width="2" height="1"/>
<rect x="1685" y="98" width="2" height="1"/>
<rect x="1685" y="131" width="2" height="1"/>
<rect x="1685" y="164" width="2" height="1"/>
<rect x="1685" y="198" width="2" height="1"/>
<rect x="1685" y="230" width="2" height="1"/>
<rect x="1685" y="263" width="2" height="1"/>
<rect x="1685" y="296" width="2" height="1"/>
<rect x="1685" y="329" width="2" height="1"/>
<rect x="1685" y="362" width="2" height="1"/>
<rect x="1685" y="395" width="2" height="1"/>
<rect x="1685" y="428" width="2" height="1"/>
<rect x="1685" y="461" width="2" height="1"/>
<rect x="1685" y="494" width="2" height="1"/>
<rect x="1685" y="527" width="2" height="1"/>
<rect x="1685" y="560" width="2" height="1"/>
<rect x="1685" y="593" width="2" height="1"/>
<rect x="1685" y="600" width="2" height="1"/>
<rect x="1685" y="656" width="2" height="1"/>
<rect x="1685" y="756" width="2" height="1"/>
<rect x="1685" y="760" width="2" height="1"/>
<rect x="1685" y="874" width="2" height="1"/>
<rect x="4" y="876" width="1" height="3"/>
<rect x="68" y="876" width="1" height="3"/>
<rect x="132" y="876" width="1" height="3"/>
<rect x="196" y="876" width="1" height="3"/>
<rect x="260" y="876" width="1" height="3"/>
<rect x="324" y="876" width="1" height="3"/>
<rect x="388" y="876" width="1" height="3"/>
<rect x="452" y="876" width="1" height="3"/>
<rect x="516" y="876" width="1" height="3"/>
<rect x="580" y="876" width="1" height="3"/>
<rect x="644" y="876" width="1" height="3"/>
<rect x="708" y="876" width="1" height="3"/>
<rect x="772" y="876" width="1" height="3"/>
<rect x="836" y="876" width="1" height="3"/>
<rect x="900" y="876" width="1" height="3"/>
<rect x="964" y="876" width="1" height="3"/>
<rect x="1028" y="876" width="1" height="3"/>
<rect x="1092" y="876" width="1" height="3"/>
<rect x="1156" y="876" width="1" height="3"/>
<rect x="1220" y="876" width="1" height="3"/>
<rect x="1284" y="876" width="1" height="3"/>
<rect x="1348" y="876" width="1" height="3"/>
<rect x="1412" y="876" width="1" height="3"/>
<rect x="1476" y="876" width="1" height="3"/>
<rect x="1540" y="876" width="1" height="3"/>
<rect x="1604" y="876" width="1" height="3"/>
</g>
<text x="1690.3" y="69" font-size="10.0" fill="#000" stroke="#000" stroke-width="0.12" textLength="32.89" lengthAdjust="spacingAndGlyphs" xml:space="preserve" >1991.10</text>
<text x="1690.3" y="102" font-size="10.0" fill="#000" stroke="#000" stroke-width="0.12" textLength="32.89" lengthAdjust="spacingAndGlyphs" xml:space="preserve" >1981.85</text>
<text x="1690.3" y="135" font-size="10.0" fill="#000" stroke="#000" stroke-width="0.12" textLength="32.89" lengthAdjust="spacingAndGlyphs" xml:space="preserve" >1972.85</text>
<text x="1690.3" y="168" font-size="10.0" fill="#000" stroke="#000" stroke-width="0.12" textLength="32.89" lengthAdjust="spacingAndGlyphs" xml:space="preserve" >1963.85</text>
<text x="1690.3" y="202" font-size="10.0" fill="#000" stroke="#000" stroke-width="0.12" textLength="32.89" lengthAdjust="spacingAndGlyphs" xml:space="preserve" >1954.60</text>
<text x="1690.3" y="234" font-size="10.0" fill="#000" stroke="#000" stroke-width="0.12" textLength="32.89" lengthAdjust="spacingAndGlyphs" xml:space="preserve" >1945.60</text>
<text x="1690.3" y="267" font-size="10.0" fill="#000" stroke="#000" stroke-width="0.12" textLength="32.89" lengthAdjust="spacingAndGlyphs" xml:space="preserve" >1936.60</text>
<text x="1690.3" y="300" font-size="10.0" fill="#000" stroke="#000" stroke-width="0.12" textLength="32.89" lengthAdjust="spacingAndGlyphs" xml:space="preserve" >1927.35</text>
<text x="1690.3" y="333" font-size="10.0" fill="#000" stroke="#000" stroke-width="0.12" textLength="32.89" lengthAdjust="spacingAndGlyphs" xml:space="preserve" >1918.35</text>
<text x="1690.3" y="366" font-size="10.0" fill="#000" stroke="#000" stroke-width="0.12" textLength="32.89" lengthAdjust="spacingAndGlyphs" xml:space="preserve" >1909.35</text>
<text x="1690.3" y="399" font-size="10.0" fill="#000" stroke="#000" stroke-width="0.12" textLength="32.89" lengthAdjust="spacingAndGlyphs" xml:space="preserve" >1900.35</text>
<text x="1690.3" y="432" font-size="10.0" fill="#000" stroke="#000" stroke-width="0.12" textLength="32.89" lengthAdjust="spacingAndGlyphs" xml:space="preserve" >1891.10</text>
<text x="1690.3" y="465" font-size="10.0" fill="#000" stroke="#000" stroke-width="0.12" textLength="32.89" lengthAdjust="spacingAndGlyphs" xml:space="preserve" >1882.10</text>
<text x="1690.3" y="498" font-size="10.0" fill="#000" stroke="#000" stroke-width="0.12" textLength="32.89" lengthAdjust="spacingAndGlyphs" xml:space="preserve" >1873.10</text>
<text x="1690.3" y="531" font-size="10.0" fill="#000" stroke="#000" stroke-width="0.12" textLength="32.89" lengthAdjust="spacingAndGlyphs" xml:space="preserve" >1863.85</text>
<text x="1690.3" y="564" font-size="10.0" fill="#000" stroke="#000" stroke-width="0.12" textLength="32.89" lengthAdjust="spacingAndGlyphs" xml:space="preserve" >1854.85</text>
<text x="1690.3" y="597" font-size="10.0" fill="#000" stroke="#000" stroke-width="0.12" textLength="32.89" lengthAdjust="spacingAndGlyphs" xml:space="preserve" >1845.85</text>
<rect x="1686" y="99" width="38" height="11" fill="#ff0000" shape-rendering="crispEdges"/>
<text x="1690.3" y="108" font-size="10.0" fill="#fff" stroke="#fff" stroke-width="0.1" textLength="32.89" lengthAdjust="spacingAndGlyphs" xml:space="preserve" >1980.00</text>
<rect x="1686" y="208" width="38" height="11" fill="#ff0000" shape-rendering="crispEdges"/>
<text x="1690.3" y="217" font-size="10.0" fill="#fff" stroke="#fff" stroke-width="0.1" textLength="32.89" lengthAdjust="spacingAndGlyphs" xml:space="preserve" >1950.00</text>
<rect x="1686" y="279" width="38" height="11" fill="#000000" shape-rendering="crispEdges"/>
<text x="1690.3" y="288" font-size="10.0" fill="#fff" stroke="#fff" stroke-width="0.1" textLength="32.89" lengthAdjust="spacingAndGlyphs" xml:space="preserve" >1930.65</text>
<rect x="1686" y="354" width="38" height="11" fill="#32cd32" shape-rendering="crispEdges"/>
<text x="1690.3" y="363" font-size="10.0" fill="#fff" stroke="#fff" stroke-width="0.1" textLength="32.89" lengthAdjust="spacingAndGlyphs" xml:space="preserve" >1910.00</text>
<rect x="1686" y="517" width="38" height="11" fill="#4169e1" shape-rendering="crispEdges"/>
<text x="1690.3" y="526" font-size="10.0" fill="#fff" stroke="#fff" stroke-width="0.1" textLength="32.89" lengthAdjust="spacingAndGlyphs" xml:space="preserve" >1865.00</text>
<text x="1687.8" y="609.5" font-size="10.0" fill="#000" stroke="#000" stroke-width="0.12" textLength="28.59" lengthAdjust="spacingAndGlyphs" xml:space="preserve" >13.036</text>
<text x="1687.6" y="660" font-size="10.0" fill="#000" stroke="#000" stroke-width="0.12" textLength="18.29" lengthAdjust="spacingAndGlyphs" xml:space="preserve" >0.00</text>
<text x="1687.6" y="754" font-size="10.0" fill="#000" stroke="#000" stroke-width="0.12" textLength="31.88" lengthAdjust="spacingAndGlyphs" xml:space="preserve" >-23.407</text>
<text x="1687.6" y="770" font-size="10.0" fill="#000" stroke="#000" stroke-width="0.12" textLength="15.01" lengthAdjust="spacingAndGlyphs" xml:space="preserve" >100</text>
<text x="1687.6" y="799" font-size="10.0" fill="#000" stroke="#000" stroke-width="0.12" textLength="10.01" lengthAdjust="spacingAndGlyphs" xml:space="preserve" >70</text>
<text x="1687.6" y="844" font-size="10.0" fill="#000" stroke="#000" stroke-width="0.12" textLength="10.01" lengthAdjust="spacingAndGlyphs" xml:space="preserve" >30</text>
<text x="1687.6" y="872" font-size="10.0" fill="#000" stroke="#000" stroke-width="0.12" textLength="5.00" lengthAdjust="spacingAndGlyphs" xml:space="preserve" >0</text>
<text x="2.4" y="888" font-size="10.0" fill="#000" stroke="#000" stroke-width="0.12" textLength="53.35" lengthAdjust="spacingAndGlyphs" xml:space="preserve" >24 Aug 2020</text>
<text x="66.4" y="888" font-size="10.0" fill="#000" stroke="#000" stroke-width="0.12" textLength="55.99" lengthAdjust="spacingAndGlyphs" xml:space="preserve" >25 Aug 16:00</text>
<text x="130.4" y="888" font-size="10.0" fill="#000" stroke="#000" stroke-width="0.12" textLength="55.99" lengthAdjust="spacingAndGlyphs" xml:space="preserve" >27 Aug 00:00</text>
<text x="194.4" y="888" font-size="10.0" fill="#000" stroke="#000" stroke-width="0.12" textLength="55.99" lengthAdjust="spacingAndGlyphs" xml:space="preserve" >28 Aug 08:00</text>
<text x="258.4" y="888" font-size="10.0" fill="#000" stroke="#000" stroke-width="0.12" textLength="55.99" lengthAdjust="spacingAndGlyphs" xml:space="preserve" >31 Aug 16:00</text>
<text x="322.4" y="888" font-size="10.0" fill="#000" stroke="#000" stroke-width="0.12" textLength="51.23" lengthAdjust="spacingAndGlyphs" xml:space="preserve" >2 Sep 00:00</text>
<text x="386.4" y="888" font-size="10.0" fill="#000" stroke="#000" stroke-width="0.12" textLength="51.23" lengthAdjust="spacingAndGlyphs" xml:space="preserve" >3 Sep 08:00</text>
<text x="450.4" y="888" font-size="10.0" fill="#000" stroke="#000" stroke-width="0.12" textLength="51.23" lengthAdjust="spacingAndGlyphs" xml:space="preserve" >4 Sep 16:00</text>
<text x="514.4" y="888" font-size="10.0" fill="#000" stroke="#000" stroke-width="0.12" textLength="51.23" lengthAdjust="spacingAndGlyphs" xml:space="preserve" >8 Sep 00:00</text>
<text x="578.4" y="888" font-size="10.0" fill="#000" stroke="#000" stroke-width="0.12" textLength="51.23" lengthAdjust="spacingAndGlyphs" xml:space="preserve" >9 Sep 08:00</text>
<text x="642.4" y="888" font-size="10.0" fill="#000" stroke="#000" stroke-width="0.12" textLength="56.52" lengthAdjust="spacingAndGlyphs" xml:space="preserve" >10 Sep 16:00</text>
<text x="706.4" y="888" font-size="10.0" fill="#000" stroke="#000" stroke-width="0.12" textLength="56.52" lengthAdjust="spacingAndGlyphs" xml:space="preserve" >14 Sep 00:00</text>
<text x="770.4" y="888" font-size="10.0" fill="#000" stroke="#000" stroke-width="0.12" textLength="56.52" lengthAdjust="spacingAndGlyphs" xml:space="preserve" >15 Sep 08:00</text>
<text x="834.4" y="888" font-size="10.0" fill="#000" stroke="#000" stroke-width="0.12" textLength="56.52" lengthAdjust="spacingAndGlyphs" xml:space="preserve" >16 Sep 16:00</text>
<text x="898.4" y="888" font-size="10.0" fill="#000" stroke="#000" stroke-width="0.12" textLength="56.52" lengthAdjust="spacingAndGlyphs" xml:space="preserve" >18 Sep 00:00</text>
<text x="962.4" y="888" font-size="10.0" fill="#000" stroke="#000" stroke-width="0.12" textLength="56.52" lengthAdjust="spacingAndGlyphs" xml:space="preserve" >21 Sep 08:00</text>
<text x="1026.4" y="888" font-size="10.0" fill="#000" stroke="#000" stroke-width="0.12" textLength="56.52" lengthAdjust="spacingAndGlyphs" xml:space="preserve" >22 Sep 16:00</text>
<text x="1090.4" y="888" font-size="10.0" fill="#000" stroke="#000" stroke-width="0.12" textLength="56.52" lengthAdjust="spacingAndGlyphs" xml:space="preserve" >24 Sep 00:00</text>
<text x="1154.4" y="888" font-size="10.0" fill="#000" stroke="#000" stroke-width="0.12" textLength="56.52" lengthAdjust="spacingAndGlyphs" xml:space="preserve" >25 Sep 08:00</text>
<text x="1218.4" y="888" font-size="10.0" fill="#000" stroke="#000" stroke-width="0.12" textLength="56.52" lengthAdjust="spacingAndGlyphs" xml:space="preserve" >28 Sep 16:00</text>
<text x="1282.4" y="888" font-size="10.0" fill="#000" stroke="#000" stroke-width="0.12" textLength="56.52" lengthAdjust="spacingAndGlyphs" xml:space="preserve" >30 Sep 00:00</text>
<text x="1346.4" y="888" font-size="10.0" fill="#000" stroke="#000" stroke-width="0.12" textLength="49.11" lengthAdjust="spacingAndGlyphs" xml:space="preserve" >1 Oct 08:00</text>
<text x="1410.4" y="888" font-size="10.0" fill="#000" stroke="#000" stroke-width="0.12" textLength="49.11" lengthAdjust="spacingAndGlyphs" xml:space="preserve" >2 Oct 16:00</text>
<text x="1474.4" y="888" font-size="10.0" fill="#000" stroke="#000" stroke-width="0.12" textLength="49.11" lengthAdjust="spacingAndGlyphs" xml:space="preserve" >6 Oct 00:00</text>
<text x="1538.4" y="888" font-size="10.0" fill="#000" stroke="#000" stroke-width="0.12" textLength="49.11" lengthAdjust="spacingAndGlyphs" xml:space="preserve" >7 Oct 08:00</text>
<text x="1602.4" y="888" font-size="10.0" fill="#000" stroke="#000" stroke-width="0.12" textLength="49.11" lengthAdjust="spacingAndGlyphs" xml:space="preserve" >8 Oct 16:00</text>
</svg></body></html>
